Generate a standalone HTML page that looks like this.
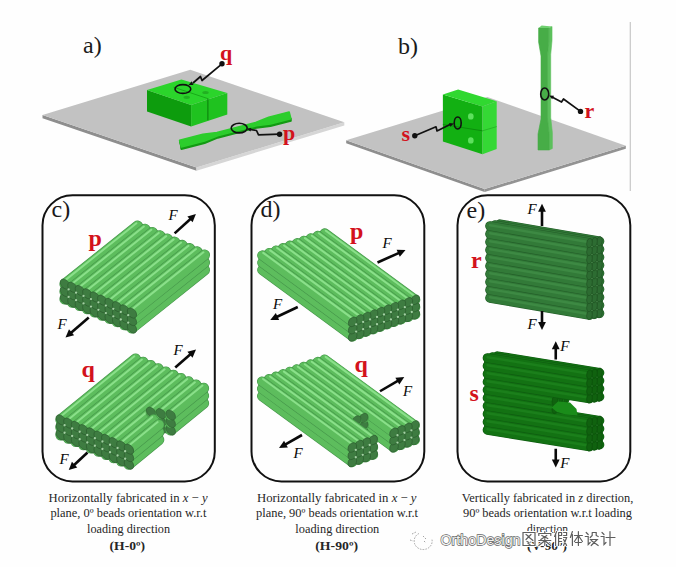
<!DOCTYPE html>
<html><head><meta charset="utf-8"><style>
html,body{margin:0;padding:0;background:#fff;}
svg{display:block;}
</style></head><body>
<svg width="676" height="567" viewBox="0 0 676 567">
<rect width="676" height="567" fill="#fefefe"/>
<polygon points="42.5,115 196.5,167.5 196.5,170.7 42.5,118.2" fill="#8e8e8e" stroke="none" stroke-width="0" />
<polygon points="196.5,167.5 344.3,122.3 344.3,125.5 196.5,170.7" fill="#d6d6d6" stroke="none" stroke-width="0" />
<polygon points="42.5,115 190.3,69.8 344.3,122.3 196.5,167.5" fill="#c2c2c2" stroke="none" stroke-width="0" />
<polygon points="346.2,140.2 484.6,189.1 484.6,192.1 346.2,143.2" fill="#8e8e8e" stroke="none" stroke-width="0" />
<polygon points="484.6,189.1 625.8,145.8 625.8,148.8 484.6,192.1" fill="#939393" stroke="none" stroke-width="0" />
<polygon points="346.2,140.2 487.4,96.9 625.8,145.8 484.6,189.1" fill="#c2c2c2" stroke="none" stroke-width="0" />
<line x1="630.3" y1="22" x2="630.3" y2="191" stroke="#c8c8c8" stroke-width="1.2" stroke-linecap="butt" />
<polygon points="147,89.9 191.1,105.1 191.1,126.6 147,111.4" fill="#0d9c0d" stroke="none" stroke-width="0" />
<polygon points="191.1,105.1 227.3,93.1 227.3,114.6 191.1,126.6" fill="#1fc21f" stroke="none" stroke-width="0" />
<polygon points="147,89.9 181.4,79.4 227.3,93.1 191.1,105.1" fill="#2bd42b" stroke="none" stroke-width="0" />
<line x1="207.9" y1="98.6" x2="207.9" y2="120.2" stroke="#0a7a0a" stroke-width="1" stroke-linecap="butt" />
<line x1="207.9" y1="98.6" x2="173.6" y2="87.2" stroke="#13a013" stroke-width="0.8" stroke-linecap="butt" />
<ellipse cx="186.7" cy="97.3" rx="3.2" ry="1.6" fill="#22b022"/>
<ellipse cx="205.5" cy="92.5" rx="3.2" ry="1.6" fill="#22b022"/>
<polygon points="181.37,146.99 204.61,141 217.7,135.67 256.43,125.7 270.47,124.04 290.87,118.79 290.87,120.89 270.47,126.14 256.43,127.8 217.7,137.77 204.61,143.1 181.37,149.09" fill="#139a13" stroke="#139a13" stroke-width="1.8" stroke-linejoin="round"/>
<polygon points="179.63,140.21 181.37,146.99 181.37,149.09 179.63,142.31" fill="#129612" stroke="#129612" stroke-width="1.0" stroke-linejoin="round"/>
<polygon points="179.63,140.21 202.87,134.23 216.9,132.57 255.64,122.6 268.72,117.27 289.13,112.01 290.87,118.79 270.47,124.04 256.43,125.7 217.7,135.67 204.61,141 181.37,146.99" fill="#2ccd2c" stroke="#2ccd2c" stroke-width="1.6" stroke-linejoin="round"/>
<polygon points="442.9,94.4 482.5,106.5 482.5,154.2 442.9,141.4" fill="#12b012" stroke="none" stroke-width="0" />
<polygon points="482.5,106.5 496.7,101.2 496.7,148.9 482.5,154.2" fill="#35d835" stroke="none" stroke-width="0" />
<polygon points="442.9,94.4 458.1,89.5 496.7,101.2 482.5,106.5" fill="#30d830" stroke="none" stroke-width="0" />
<line x1="442.9" y1="124.5" x2="482.5" y2="130.8" stroke="#0a8a0a" stroke-width="0.9" stroke-linecap="butt" />
<line x1="482.5" y1="130.8" x2="496.7" y2="126.6" stroke="#22b022" stroke-width="0.8" stroke-linecap="butt" />
<ellipse cx="470.8" cy="116.4" rx="2.8" ry="3.2" fill="#5ee05e"/>
<ellipse cx="470.8" cy="140.4" rx="2.8" ry="3.2" fill="#5ee05e"/>
<polygon points="548.83,28 548.83,42 547.51,56 547.51,119 549.16,134 549.16,150 552.36,148.5 552.36,132.5 550.71,117.5 550.71,54.5 552.03,40.5 552.03,26.5" fill="#5cc05c" stroke="#5cc05c" stroke-width="0.6" stroke-linejoin="round"/>
<polygon points="538.6,28 538.6,42 541,56 541,119 538,134 538,150 549.16,150 549.16,134 547.51,119 547.51,56 548.83,42 548.83,28" fill="#47ad47" stroke="#47ad47" stroke-width="0.6" stroke-linejoin="round"/>
<polygon points="538.6,28 541.6,25.5 552.03,26.5 548.83,28" fill="#70d070" stroke="none" stroke-width="0" />
<polyline points="222,63.8 202,80.5 200.5,76.5 193,83" fill="none" stroke="#111" stroke-width="1.7" stroke-linejoin="round"/>
<circle cx="222" cy="63.8" r="2.7" fill="#111"/>
<polygon points="188.5,85 191.77,81.32 193.42,84.96" fill="#111" stroke="none" stroke-width="0" />
<ellipse cx="182.9" cy="89" rx="7.9" ry="4.4" fill="none" stroke="#111" stroke-width="1.6"/>
<polyline points="279.6,134.2 258.5,134.8 256.5,130.5 250,129.5" fill="none" stroke="#111" stroke-width="1.7" stroke-linejoin="round"/>
<circle cx="279.6" cy="134.2" r="2.7" fill="#111"/>
<polygon points="246.5,128.8 251.29,127.64 250.57,131.57" fill="#111" stroke="none" stroke-width="0" />
<ellipse cx="239.2" cy="128.1" rx="8" ry="4.8" fill="none" stroke="#111" stroke-width="1.6"/>
<polyline points="414.8,135.8 436,126.8 437,131 450,124.5" fill="none" stroke="#111" stroke-width="1.7" stroke-linejoin="round"/>
<circle cx="414.8" cy="135.8" r="2.7" fill="#111"/>
<polygon points="454,123.5 450.26,126.71 449.12,122.88" fill="#111" stroke="none" stroke-width="0" />
<ellipse cx="457.7" cy="123" rx="3.5" ry="6" fill="none" stroke="#111" stroke-width="1.6"/>
<polyline points="580.5,111.4 563.5,99 561.5,102 552,97" fill="none" stroke="#111" stroke-width="1.7" stroke-linejoin="round"/>
<circle cx="580.5" cy="111.4" r="2.7" fill="#111"/>
<polygon points="549.1,95.5 554.02,95.77 552.19,99.33" fill="#111" stroke="none" stroke-width="0" />
<ellipse cx="544.7" cy="94" rx="4" ry="6" fill="none" stroke="#111" stroke-width="1.6"/>
<text x="220" y="60" font-family="Liberation Serif" font-size="22" fill="#d3121c" font-weight="bold" font-style="normal" text-anchor="start" >q</text>
<text x="283" y="140" font-family="Liberation Serif" font-size="22" fill="#d3121c" font-weight="bold" font-style="normal" text-anchor="start" >p</text>
<text x="401.5" y="141" font-family="Liberation Serif" font-size="22" fill="#d3121c" font-weight="bold" font-style="normal" text-anchor="start" >s</text>
<text x="584.5" y="117.5" font-family="Liberation Serif" font-size="22" fill="#d3121c" font-weight="bold" font-style="normal" text-anchor="start" >r</text>
<text x="83" y="53.3" font-family="Liberation Serif" font-size="24" fill="#1a1a1a" font-weight="normal" font-style="normal" text-anchor="start" >a)</text>
<text x="398" y="53.5" font-family="Liberation Serif" font-size="24" fill="#1a1a1a" font-weight="normal" font-style="normal" text-anchor="start" >b)</text>
<text x="51.5" y="216.5" font-family="Liberation Serif" font-size="24" fill="#1a1a1a" font-weight="normal" font-style="normal" text-anchor="start" >c)</text>
<text x="260.5" y="217" font-family="Liberation Serif" font-size="24" fill="#1a1a1a" font-weight="normal" font-style="normal" text-anchor="start" >d)</text>
<text x="466.5" y="218" font-family="Liberation Serif" font-size="24" fill="#1a1a1a" font-weight="normal" font-style="normal" text-anchor="start" >e)</text>
<rect x="42.5" y="195.3" width="172.3" height="286.1" rx="30" ry="30" fill="none" stroke="#111" stroke-width="2"/>
<rect x="251.5" y="195.3" width="172.8" height="286.1" rx="30" ry="30" fill="none" stroke="#111" stroke-width="2"/>
<rect x="457.5" y="195.3" width="172.8" height="286.1" rx="30" ry="30" fill="none" stroke="#111" stroke-width="2"/>
<text x="48.6" y="501.8" font-family="Liberation Serif" font-size="13" fill="#262626" font-weight="normal" font-style="normal" text-anchor="start" textLength="159" lengthAdjust="spacingAndGlyphs" >Horizontally fabricated in <tspan font-style="italic">x</tspan> − <tspan font-style="italic">y</tspan></text>
<text x="50.4" y="516.9" font-family="Liberation Serif" font-size="13" fill="#262626" font-weight="normal" font-style="normal" text-anchor="start" textLength="156" lengthAdjust="spacingAndGlyphs" >plane, 0º beads orientation w.r.t</text>
<text x="87" y="532.5" font-family="Liberation Serif" font-size="13" fill="#262626" font-weight="normal" font-style="normal" text-anchor="start" textLength="83" lengthAdjust="spacingAndGlyphs" >loading direction</text>
<text x="109.5" y="550.3" font-family="Liberation Serif" font-size="13" fill="#262626" font-weight="bold" font-style="normal" text-anchor="start" textLength="35.5" lengthAdjust="spacingAndGlyphs" >(H-0º)</text>
<text x="257" y="501.8" font-family="Liberation Serif" font-size="13" fill="#262626" font-weight="normal" font-style="normal" text-anchor="start" textLength="159.5" lengthAdjust="spacingAndGlyphs" >Horizontally fabricated in <tspan font-style="italic">x</tspan> − <tspan font-style="italic">y</tspan></text>
<text x="256" y="516.9" font-family="Liberation Serif" font-size="13" fill="#262626" font-weight="normal" font-style="normal" text-anchor="start" textLength="162" lengthAdjust="spacingAndGlyphs" >plane, 90º beads orientation w.r.t</text>
<text x="295.3" y="532.5" font-family="Liberation Serif" font-size="13" fill="#262626" font-weight="normal" font-style="normal" text-anchor="start" textLength="84" lengthAdjust="spacingAndGlyphs" >loading direction</text>
<text x="315.3" y="550.3" font-family="Liberation Serif" font-size="13" fill="#262626" font-weight="bold" font-style="normal" text-anchor="start" textLength="42.7" lengthAdjust="spacingAndGlyphs" >(H-90º)</text>
<text x="461.8" y="501.8" font-family="Liberation Serif" font-size="13" fill="#262626" font-weight="normal" font-style="normal" text-anchor="start" textLength="171.5" lengthAdjust="spacingAndGlyphs" >Vertically fabricated in <tspan font-style="italic">z</tspan> direction,</text>
<text x="463" y="516.9" font-family="Liberation Serif" font-size="13" fill="#262626" font-weight="normal" font-style="normal" text-anchor="start" textLength="169" lengthAdjust="spacingAndGlyphs" >90º beads orientation w.r.t loading</text>
<text x="527" y="532.5" font-family="Liberation Serif" font-size="13" fill="#262626" font-weight="normal" font-style="normal" text-anchor="start" textLength="41" lengthAdjust="spacingAndGlyphs" >direction</text>
<text x="527" y="550.3" font-family="Liberation Serif" font-size="13" fill="#262626" font-weight="bold" font-style="normal" text-anchor="start" textLength="40" lengthAdjust="spacingAndGlyphs" >(V-90º)</text>
<polygon points="64.9,284.1 137.5,226 167.3,238.88 204.55,254.98 204.55,269.98 131.95,328.08 124.5,324.86 109.6,318.42 79.8,305.54 64.9,299.1" fill="#45964a" stroke="#45964a" stroke-width="7.78" stroke-linejoin="round"/>
<line x1="64.9" y1="299.1" x2="137.5" y2="241" stroke="#45964a" stroke-width="10.97" stroke-linecap="round"/>
<line x1="64.9" y1="299.1" x2="137.5" y2="241" stroke="#5dbd5d" stroke-width="9.77" stroke-linecap="round"/>
<line x1="63.78" y1="296.37" x2="136.38" y2="238.27" stroke="#8ae08a" stroke-width="2" stroke-linecap="round"/>
<line x1="72.35" y1="302.32" x2="144.95" y2="244.22" stroke="#45964a" stroke-width="10.97" stroke-linecap="round"/>
<line x1="72.35" y1="302.32" x2="144.95" y2="244.22" stroke="#5dbd5d" stroke-width="9.77" stroke-linecap="round"/>
<line x1="71.23" y1="299.59" x2="143.83" y2="241.49" stroke="#8ae08a" stroke-width="2" stroke-linecap="round"/>
<line x1="79.8" y1="305.54" x2="152.4" y2="247.44" stroke="#45964a" stroke-width="10.97" stroke-linecap="round"/>
<line x1="79.8" y1="305.54" x2="152.4" y2="247.44" stroke="#5dbd5d" stroke-width="9.77" stroke-linecap="round"/>
<line x1="78.68" y1="302.81" x2="151.28" y2="244.71" stroke="#8ae08a" stroke-width="2" stroke-linecap="round"/>
<line x1="87.25" y1="308.76" x2="159.85" y2="250.66" stroke="#45964a" stroke-width="10.97" stroke-linecap="round"/>
<line x1="87.25" y1="308.76" x2="159.85" y2="250.66" stroke="#5dbd5d" stroke-width="9.77" stroke-linecap="round"/>
<line x1="86.13" y1="306.03" x2="158.73" y2="247.93" stroke="#8ae08a" stroke-width="2" stroke-linecap="round"/>
<line x1="94.7" y1="311.98" x2="167.3" y2="253.88" stroke="#45964a" stroke-width="10.97" stroke-linecap="round"/>
<line x1="94.7" y1="311.98" x2="167.3" y2="253.88" stroke="#5dbd5d" stroke-width="9.77" stroke-linecap="round"/>
<line x1="93.58" y1="309.25" x2="166.18" y2="251.15" stroke="#8ae08a" stroke-width="2" stroke-linecap="round"/>
<line x1="102.15" y1="315.2" x2="174.75" y2="257.1" stroke="#45964a" stroke-width="10.97" stroke-linecap="round"/>
<line x1="102.15" y1="315.2" x2="174.75" y2="257.1" stroke="#5dbd5d" stroke-width="9.77" stroke-linecap="round"/>
<line x1="101.03" y1="312.47" x2="173.63" y2="254.37" stroke="#8ae08a" stroke-width="2" stroke-linecap="round"/>
<line x1="109.6" y1="318.42" x2="182.2" y2="260.32" stroke="#45964a" stroke-width="10.97" stroke-linecap="round"/>
<line x1="109.6" y1="318.42" x2="182.2" y2="260.32" stroke="#5dbd5d" stroke-width="9.77" stroke-linecap="round"/>
<line x1="108.48" y1="315.69" x2="181.08" y2="257.59" stroke="#8ae08a" stroke-width="2" stroke-linecap="round"/>
<line x1="117.05" y1="321.64" x2="189.65" y2="263.54" stroke="#45964a" stroke-width="10.97" stroke-linecap="round"/>
<line x1="117.05" y1="321.64" x2="189.65" y2="263.54" stroke="#5dbd5d" stroke-width="9.77" stroke-linecap="round"/>
<line x1="115.93" y1="318.91" x2="188.53" y2="260.81" stroke="#8ae08a" stroke-width="2" stroke-linecap="round"/>
<line x1="124.5" y1="324.86" x2="197.1" y2="266.76" stroke="#45964a" stroke-width="10.97" stroke-linecap="round"/>
<line x1="124.5" y1="324.86" x2="197.1" y2="266.76" stroke="#5dbd5d" stroke-width="9.77" stroke-linecap="round"/>
<line x1="123.38" y1="322.13" x2="195.98" y2="264.03" stroke="#8ae08a" stroke-width="2" stroke-linecap="round"/>
<line x1="131.95" y1="328.08" x2="204.55" y2="269.98" stroke="#45964a" stroke-width="10.97" stroke-linecap="round"/>
<line x1="131.95" y1="328.08" x2="204.55" y2="269.98" stroke="#5dbd5d" stroke-width="9.77" stroke-linecap="round"/>
<line x1="130.83" y1="325.35" x2="203.43" y2="267.25" stroke="#8ae08a" stroke-width="2" stroke-linecap="round"/>
<line x1="64.9" y1="291.6" x2="137.5" y2="233.5" stroke="#45964a" stroke-width="10.97" stroke-linecap="round"/>
<line x1="64.9" y1="291.6" x2="137.5" y2="233.5" stroke="#5dbd5d" stroke-width="9.77" stroke-linecap="round"/>
<line x1="63.78" y1="288.87" x2="136.38" y2="230.77" stroke="#8ae08a" stroke-width="2" stroke-linecap="round"/>
<line x1="72.35" y1="294.82" x2="144.95" y2="236.72" stroke="#45964a" stroke-width="10.97" stroke-linecap="round"/>
<line x1="72.35" y1="294.82" x2="144.95" y2="236.72" stroke="#5dbd5d" stroke-width="9.77" stroke-linecap="round"/>
<line x1="71.23" y1="292.09" x2="143.83" y2="233.99" stroke="#8ae08a" stroke-width="2" stroke-linecap="round"/>
<line x1="79.8" y1="298.04" x2="152.4" y2="239.94" stroke="#45964a" stroke-width="10.97" stroke-linecap="round"/>
<line x1="79.8" y1="298.04" x2="152.4" y2="239.94" stroke="#5dbd5d" stroke-width="9.77" stroke-linecap="round"/>
<line x1="78.68" y1="295.31" x2="151.28" y2="237.21" stroke="#8ae08a" stroke-width="2" stroke-linecap="round"/>
<line x1="87.25" y1="301.26" x2="159.85" y2="243.16" stroke="#45964a" stroke-width="10.97" stroke-linecap="round"/>
<line x1="87.25" y1="301.26" x2="159.85" y2="243.16" stroke="#5dbd5d" stroke-width="9.77" stroke-linecap="round"/>
<line x1="86.13" y1="298.53" x2="158.73" y2="240.43" stroke="#8ae08a" stroke-width="2" stroke-linecap="round"/>
<line x1="94.7" y1="304.48" x2="167.3" y2="246.38" stroke="#45964a" stroke-width="10.97" stroke-linecap="round"/>
<line x1="94.7" y1="304.48" x2="167.3" y2="246.38" stroke="#5dbd5d" stroke-width="9.77" stroke-linecap="round"/>
<line x1="93.58" y1="301.75" x2="166.18" y2="243.65" stroke="#8ae08a" stroke-width="2" stroke-linecap="round"/>
<line x1="102.15" y1="307.7" x2="174.75" y2="249.6" stroke="#45964a" stroke-width="10.97" stroke-linecap="round"/>
<line x1="102.15" y1="307.7" x2="174.75" y2="249.6" stroke="#5dbd5d" stroke-width="9.77" stroke-linecap="round"/>
<line x1="101.03" y1="304.97" x2="173.63" y2="246.87" stroke="#8ae08a" stroke-width="2" stroke-linecap="round"/>
<line x1="109.6" y1="310.92" x2="182.2" y2="252.82" stroke="#45964a" stroke-width="10.97" stroke-linecap="round"/>
<line x1="109.6" y1="310.92" x2="182.2" y2="252.82" stroke="#5dbd5d" stroke-width="9.77" stroke-linecap="round"/>
<line x1="108.48" y1="308.19" x2="181.08" y2="250.09" stroke="#8ae08a" stroke-width="2" stroke-linecap="round"/>
<line x1="117.05" y1="314.14" x2="189.65" y2="256.04" stroke="#45964a" stroke-width="10.97" stroke-linecap="round"/>
<line x1="117.05" y1="314.14" x2="189.65" y2="256.04" stroke="#5dbd5d" stroke-width="9.77" stroke-linecap="round"/>
<line x1="115.93" y1="311.41" x2="188.53" y2="253.31" stroke="#8ae08a" stroke-width="2" stroke-linecap="round"/>
<line x1="124.5" y1="317.36" x2="197.1" y2="259.26" stroke="#45964a" stroke-width="10.97" stroke-linecap="round"/>
<line x1="124.5" y1="317.36" x2="197.1" y2="259.26" stroke="#5dbd5d" stroke-width="9.77" stroke-linecap="round"/>
<line x1="123.38" y1="314.63" x2="195.98" y2="256.53" stroke="#8ae08a" stroke-width="2" stroke-linecap="round"/>
<line x1="131.95" y1="320.58" x2="204.55" y2="262.48" stroke="#45964a" stroke-width="10.97" stroke-linecap="round"/>
<line x1="131.95" y1="320.58" x2="204.55" y2="262.48" stroke="#5dbd5d" stroke-width="9.77" stroke-linecap="round"/>
<line x1="130.83" y1="317.85" x2="203.43" y2="259.75" stroke="#8ae08a" stroke-width="2" stroke-linecap="round"/>
<line x1="64.9" y1="284.1" x2="137.5" y2="226" stroke="#45964a" stroke-width="10.97" stroke-linecap="round"/>
<line x1="64.9" y1="284.1" x2="137.5" y2="226" stroke="#5dbd5d" stroke-width="9.77" stroke-linecap="round"/>
<line x1="63.78" y1="281.37" x2="136.38" y2="223.27" stroke="#8ae08a" stroke-width="2" stroke-linecap="round"/>
<line x1="72.35" y1="287.32" x2="144.95" y2="229.22" stroke="#45964a" stroke-width="10.97" stroke-linecap="round"/>
<line x1="72.35" y1="287.32" x2="144.95" y2="229.22" stroke="#5dbd5d" stroke-width="9.77" stroke-linecap="round"/>
<line x1="71.23" y1="284.59" x2="143.83" y2="226.49" stroke="#8ae08a" stroke-width="2" stroke-linecap="round"/>
<line x1="79.8" y1="290.54" x2="152.4" y2="232.44" stroke="#45964a" stroke-width="10.97" stroke-linecap="round"/>
<line x1="79.8" y1="290.54" x2="152.4" y2="232.44" stroke="#5dbd5d" stroke-width="9.77" stroke-linecap="round"/>
<line x1="78.68" y1="287.81" x2="151.28" y2="229.71" stroke="#8ae08a" stroke-width="2" stroke-linecap="round"/>
<line x1="87.25" y1="293.76" x2="159.85" y2="235.66" stroke="#45964a" stroke-width="10.97" stroke-linecap="round"/>
<line x1="87.25" y1="293.76" x2="159.85" y2="235.66" stroke="#5dbd5d" stroke-width="9.77" stroke-linecap="round"/>
<line x1="86.13" y1="291.03" x2="158.73" y2="232.93" stroke="#8ae08a" stroke-width="2" stroke-linecap="round"/>
<line x1="94.7" y1="296.98" x2="167.3" y2="238.88" stroke="#45964a" stroke-width="10.97" stroke-linecap="round"/>
<line x1="94.7" y1="296.98" x2="167.3" y2="238.88" stroke="#5dbd5d" stroke-width="9.77" stroke-linecap="round"/>
<line x1="93.58" y1="294.25" x2="166.18" y2="236.15" stroke="#8ae08a" stroke-width="2" stroke-linecap="round"/>
<line x1="102.15" y1="300.2" x2="174.75" y2="242.1" stroke="#45964a" stroke-width="10.97" stroke-linecap="round"/>
<line x1="102.15" y1="300.2" x2="174.75" y2="242.1" stroke="#5dbd5d" stroke-width="9.77" stroke-linecap="round"/>
<line x1="101.03" y1="297.47" x2="173.63" y2="239.37" stroke="#8ae08a" stroke-width="2" stroke-linecap="round"/>
<line x1="109.6" y1="303.42" x2="182.2" y2="245.32" stroke="#45964a" stroke-width="10.97" stroke-linecap="round"/>
<line x1="109.6" y1="303.42" x2="182.2" y2="245.32" stroke="#5dbd5d" stroke-width="9.77" stroke-linecap="round"/>
<line x1="108.48" y1="300.69" x2="181.08" y2="242.59" stroke="#8ae08a" stroke-width="2" stroke-linecap="round"/>
<line x1="117.05" y1="306.64" x2="189.65" y2="248.54" stroke="#45964a" stroke-width="10.97" stroke-linecap="round"/>
<line x1="117.05" y1="306.64" x2="189.65" y2="248.54" stroke="#5dbd5d" stroke-width="9.77" stroke-linecap="round"/>
<line x1="115.93" y1="303.91" x2="188.53" y2="245.81" stroke="#8ae08a" stroke-width="2" stroke-linecap="round"/>
<line x1="124.5" y1="309.86" x2="197.1" y2="251.76" stroke="#45964a" stroke-width="10.97" stroke-linecap="round"/>
<line x1="124.5" y1="309.86" x2="197.1" y2="251.76" stroke="#5dbd5d" stroke-width="9.77" stroke-linecap="round"/>
<line x1="123.38" y1="307.13" x2="195.98" y2="249.03" stroke="#8ae08a" stroke-width="2" stroke-linecap="round"/>
<line x1="131.95" y1="313.08" x2="204.55" y2="254.98" stroke="#45964a" stroke-width="10.97" stroke-linecap="round"/>
<line x1="131.95" y1="313.08" x2="204.55" y2="254.98" stroke="#5dbd5d" stroke-width="9.77" stroke-linecap="round"/>
<line x1="130.83" y1="310.35" x2="203.43" y2="252.25" stroke="#8ae08a" stroke-width="2" stroke-linecap="round"/>
<circle r="1" transform="matrix(4.62,2,0,4.65,64.9,299.1)" fill="#3e7c41" stroke="#2b5c2e" stroke-width="0.7" vector-effect="non-scaling-stroke"/>
<circle r="1" transform="matrix(4.62,2,0,4.65,72.35,302.32)" fill="#3e7c41" stroke="#2b5c2e" stroke-width="0.7" vector-effect="non-scaling-stroke"/>
<circle r="1" transform="matrix(4.62,2,0,4.65,79.8,305.54)" fill="#3e7c41" stroke="#2b5c2e" stroke-width="0.7" vector-effect="non-scaling-stroke"/>
<circle r="1" transform="matrix(4.62,2,0,4.65,87.25,308.76)" fill="#3e7c41" stroke="#2b5c2e" stroke-width="0.7" vector-effect="non-scaling-stroke"/>
<circle r="1" transform="matrix(4.62,2,0,4.65,94.7,311.98)" fill="#3e7c41" stroke="#2b5c2e" stroke-width="0.7" vector-effect="non-scaling-stroke"/>
<circle r="1" transform="matrix(4.62,2,0,4.65,102.15,315.2)" fill="#3e7c41" stroke="#2b5c2e" stroke-width="0.7" vector-effect="non-scaling-stroke"/>
<circle r="1" transform="matrix(4.62,2,0,4.65,109.6,318.42)" fill="#3e7c41" stroke="#2b5c2e" stroke-width="0.7" vector-effect="non-scaling-stroke"/>
<circle r="1" transform="matrix(4.62,2,0,4.65,117.05,321.64)" fill="#3e7c41" stroke="#2b5c2e" stroke-width="0.7" vector-effect="non-scaling-stroke"/>
<circle r="1" transform="matrix(4.62,2,0,4.65,124.5,324.86)" fill="#3e7c41" stroke="#2b5c2e" stroke-width="0.7" vector-effect="non-scaling-stroke"/>
<circle r="1" transform="matrix(4.62,2,0,4.65,131.95,328.08)" fill="#3e7c41" stroke="#2b5c2e" stroke-width="0.7" vector-effect="non-scaling-stroke"/>
<circle r="1" transform="matrix(4.62,2,0,4.65,64.9,291.6)" fill="#3e7c41" stroke="#2b5c2e" stroke-width="0.7" vector-effect="non-scaling-stroke"/>
<circle r="1" transform="matrix(4.62,2,0,4.65,72.35,294.82)" fill="#3e7c41" stroke="#2b5c2e" stroke-width="0.7" vector-effect="non-scaling-stroke"/>
<circle r="1" transform="matrix(4.62,2,0,4.65,79.8,298.04)" fill="#3e7c41" stroke="#2b5c2e" stroke-width="0.7" vector-effect="non-scaling-stroke"/>
<circle r="1" transform="matrix(4.62,2,0,4.65,87.25,301.26)" fill="#3e7c41" stroke="#2b5c2e" stroke-width="0.7" vector-effect="non-scaling-stroke"/>
<circle r="1" transform="matrix(4.62,2,0,4.65,94.7,304.48)" fill="#3e7c41" stroke="#2b5c2e" stroke-width="0.7" vector-effect="non-scaling-stroke"/>
<circle r="1" transform="matrix(4.62,2,0,4.65,102.15,307.7)" fill="#3e7c41" stroke="#2b5c2e" stroke-width="0.7" vector-effect="non-scaling-stroke"/>
<circle r="1" transform="matrix(4.62,2,0,4.65,109.6,310.92)" fill="#3e7c41" stroke="#2b5c2e" stroke-width="0.7" vector-effect="non-scaling-stroke"/>
<circle r="1" transform="matrix(4.62,2,0,4.65,117.05,314.14)" fill="#3e7c41" stroke="#2b5c2e" stroke-width="0.7" vector-effect="non-scaling-stroke"/>
<circle r="1" transform="matrix(4.62,2,0,4.65,124.5,317.36)" fill="#3e7c41" stroke="#2b5c2e" stroke-width="0.7" vector-effect="non-scaling-stroke"/>
<circle r="1" transform="matrix(4.62,2,0,4.65,131.95,320.58)" fill="#3e7c41" stroke="#2b5c2e" stroke-width="0.7" vector-effect="non-scaling-stroke"/>
<circle r="1" transform="matrix(4.62,2,0,4.65,64.9,284.1)" fill="#3e7c41" stroke="#2b5c2e" stroke-width="0.7" vector-effect="non-scaling-stroke"/>
<circle r="1" transform="matrix(4.62,2,0,4.65,72.35,287.32)" fill="#3e7c41" stroke="#2b5c2e" stroke-width="0.7" vector-effect="non-scaling-stroke"/>
<circle r="1" transform="matrix(4.62,2,0,4.65,79.8,290.54)" fill="#3e7c41" stroke="#2b5c2e" stroke-width="0.7" vector-effect="non-scaling-stroke"/>
<circle r="1" transform="matrix(4.62,2,0,4.65,87.25,293.76)" fill="#3e7c41" stroke="#2b5c2e" stroke-width="0.7" vector-effect="non-scaling-stroke"/>
<circle r="1" transform="matrix(4.62,2,0,4.65,94.7,296.98)" fill="#3e7c41" stroke="#2b5c2e" stroke-width="0.7" vector-effect="non-scaling-stroke"/>
<circle r="1" transform="matrix(4.62,2,0,4.65,102.15,300.2)" fill="#3e7c41" stroke="#2b5c2e" stroke-width="0.7" vector-effect="non-scaling-stroke"/>
<circle r="1" transform="matrix(4.62,2,0,4.65,109.6,303.42)" fill="#3e7c41" stroke="#2b5c2e" stroke-width="0.7" vector-effect="non-scaling-stroke"/>
<circle r="1" transform="matrix(4.62,2,0,4.65,117.05,306.64)" fill="#3e7c41" stroke="#2b5c2e" stroke-width="0.7" vector-effect="non-scaling-stroke"/>
<circle r="1" transform="matrix(4.62,2,0,4.65,124.5,309.86)" fill="#3e7c41" stroke="#2b5c2e" stroke-width="0.7" vector-effect="non-scaling-stroke"/>
<circle r="1" transform="matrix(4.62,2,0,4.65,131.95,313.08)" fill="#3e7c41" stroke="#2b5c2e" stroke-width="0.7" vector-effect="non-scaling-stroke"/>
<circle cx="68.62" cy="296.96" r="1.15" fill="#a4d0a4"/>
<circle cx="76.08" cy="300.18" r="1.15" fill="#a4d0a4"/>
<circle cx="83.53" cy="303.4" r="1.15" fill="#a4d0a4"/>
<circle cx="90.97" cy="306.62" r="1.15" fill="#a4d0a4"/>
<circle cx="98.43" cy="309.84" r="1.15" fill="#a4d0a4"/>
<circle cx="105.88" cy="313.06" r="1.15" fill="#a4d0a4"/>
<circle cx="113.33" cy="316.28" r="1.15" fill="#a4d0a4"/>
<circle cx="120.78" cy="319.5" r="1.15" fill="#a4d0a4"/>
<circle cx="128.22" cy="322.72" r="1.15" fill="#a4d0a4"/>
<circle cx="68.62" cy="289.46" r="1.15" fill="#a4d0a4"/>
<circle cx="76.08" cy="292.68" r="1.15" fill="#a4d0a4"/>
<circle cx="83.53" cy="295.9" r="1.15" fill="#a4d0a4"/>
<circle cx="90.97" cy="299.12" r="1.15" fill="#a4d0a4"/>
<circle cx="98.43" cy="302.34" r="1.15" fill="#a4d0a4"/>
<circle cx="105.88" cy="305.56" r="1.15" fill="#a4d0a4"/>
<circle cx="113.33" cy="308.78" r="1.15" fill="#a4d0a4"/>
<circle cx="120.78" cy="312" r="1.15" fill="#a4d0a4"/>
<circle cx="128.22" cy="315.22" r="1.15" fill="#a4d0a4"/>
<polygon points="60.8,419.9 135.5,359 158.21,368.75 180.92,378.5 180.92,393.5 106.22,454.4 60.8,434.9" fill="#45964a" stroke="#45964a" stroke-width="7.84" stroke-linejoin="round"/>
<polygon points="113.79,442.65 148.15,414.64 153.48,419.71 158.81,424.79 158.81,439.79 128.93,464.15 121.36,460.9 113.79,457.65" fill="#45964a" stroke="#45964a" stroke-width="7.84" stroke-linejoin="round"/>
<polygon points="151.14,412.2 188.49,381.75 203.63,388.25 203.63,403.25 170.76,430.05 151.14,427.2" fill="#45964a" stroke="#45964a" stroke-width="7.84" stroke-linejoin="round"/>
<line x1="60.8" y1="434.9" x2="135.5" y2="374" stroke="#45964a" stroke-width="11.05" stroke-linecap="round"/>
<line x1="60.8" y1="434.9" x2="135.5" y2="374" stroke="#5dbd5d" stroke-width="9.85" stroke-linecap="round"/>
<line x1="59.66" y1="432.16" x2="134.36" y2="371.26" stroke="#8ae08a" stroke-width="2" stroke-linecap="round"/>
<line x1="68.37" y1="438.15" x2="143.07" y2="377.25" stroke="#45964a" stroke-width="11.05" stroke-linecap="round"/>
<line x1="68.37" y1="438.15" x2="143.07" y2="377.25" stroke="#5dbd5d" stroke-width="9.85" stroke-linecap="round"/>
<line x1="67.23" y1="435.41" x2="141.93" y2="374.51" stroke="#8ae08a" stroke-width="2" stroke-linecap="round"/>
<line x1="75.94" y1="441.4" x2="150.64" y2="380.5" stroke="#45964a" stroke-width="11.05" stroke-linecap="round"/>
<line x1="75.94" y1="441.4" x2="150.64" y2="380.5" stroke="#5dbd5d" stroke-width="9.85" stroke-linecap="round"/>
<line x1="74.8" y1="438.66" x2="149.5" y2="377.76" stroke="#8ae08a" stroke-width="2" stroke-linecap="round"/>
<line x1="83.51" y1="444.65" x2="158.21" y2="383.75" stroke="#45964a" stroke-width="11.05" stroke-linecap="round"/>
<line x1="83.51" y1="444.65" x2="158.21" y2="383.75" stroke="#5dbd5d" stroke-width="9.85" stroke-linecap="round"/>
<line x1="82.37" y1="441.91" x2="157.07" y2="381.01" stroke="#8ae08a" stroke-width="2" stroke-linecap="round"/>
<line x1="91.08" y1="447.9" x2="165.78" y2="387" stroke="#45964a" stroke-width="11.05" stroke-linecap="round"/>
<line x1="91.08" y1="447.9" x2="165.78" y2="387" stroke="#5dbd5d" stroke-width="9.85" stroke-linecap="round"/>
<line x1="89.94" y1="445.16" x2="164.64" y2="384.26" stroke="#8ae08a" stroke-width="2" stroke-linecap="round"/>
<line x1="98.65" y1="451.15" x2="173.35" y2="390.25" stroke="#45964a" stroke-width="11.05" stroke-linecap="round"/>
<line x1="98.65" y1="451.15" x2="173.35" y2="390.25" stroke="#5dbd5d" stroke-width="9.85" stroke-linecap="round"/>
<line x1="97.51" y1="448.41" x2="172.21" y2="387.51" stroke="#8ae08a" stroke-width="2" stroke-linecap="round"/>
<line x1="106.22" y1="454.4" x2="180.92" y2="393.5" stroke="#45964a" stroke-width="11.05" stroke-linecap="round"/>
<line x1="106.22" y1="454.4" x2="180.92" y2="393.5" stroke="#5dbd5d" stroke-width="9.85" stroke-linecap="round"/>
<line x1="105.08" y1="451.66" x2="179.78" y2="390.76" stroke="#8ae08a" stroke-width="2" stroke-linecap="round"/>
<line x1="113.79" y1="457.65" x2="148.15" y2="429.64" stroke="#45964a" stroke-width="11.05" stroke-linecap="round"/>
<line x1="113.79" y1="457.65" x2="148.15" y2="429.64" stroke="#5dbd5d" stroke-width="9.85" stroke-linecap="round"/>
<line x1="112.65" y1="454.91" x2="147.02" y2="426.9" stroke="#8ae08a" stroke-width="2" stroke-linecap="round"/>
<line x1="151.14" y1="427.2" x2="188.49" y2="396.75" stroke="#45964a" stroke-width="11.05" stroke-linecap="round"/>
<line x1="151.14" y1="427.2" x2="188.49" y2="396.75" stroke="#5dbd5d" stroke-width="9.85" stroke-linecap="round"/>
<line x1="150" y1="424.46" x2="187.35" y2="394.01" stroke="#8ae08a" stroke-width="2" stroke-linecap="round"/>
<circle r="1" transform="matrix(4.69,2.02,0,4.65,151.14,427.2)" fill="#3e7c41" stroke="#2b5c2e" stroke-width="0.6" vector-effect="non-scaling-stroke"/>
<line x1="121.36" y1="460.9" x2="153.48" y2="434.71" stroke="#45964a" stroke-width="11.05" stroke-linecap="round"/>
<line x1="121.36" y1="460.9" x2="153.48" y2="434.71" stroke="#5dbd5d" stroke-width="9.85" stroke-linecap="round"/>
<line x1="120.22" y1="458.16" x2="152.35" y2="431.98" stroke="#8ae08a" stroke-width="2" stroke-linecap="round"/>
<line x1="160.95" y1="428.62" x2="196.06" y2="400" stroke="#45964a" stroke-width="11.05" stroke-linecap="round"/>
<line x1="160.95" y1="428.62" x2="196.06" y2="400" stroke="#5dbd5d" stroke-width="9.85" stroke-linecap="round"/>
<line x1="159.82" y1="425.89" x2="194.92" y2="397.26" stroke="#8ae08a" stroke-width="2" stroke-linecap="round"/>
<circle r="1" transform="matrix(4.69,2.02,0,4.65,160.95,428.62)" fill="#3e7c41" stroke="#2b5c2e" stroke-width="0.6" vector-effect="non-scaling-stroke"/>
<line x1="128.93" y1="464.15" x2="158.81" y2="439.79" stroke="#45964a" stroke-width="11.05" stroke-linecap="round"/>
<line x1="128.93" y1="464.15" x2="158.81" y2="439.79" stroke="#5dbd5d" stroke-width="9.85" stroke-linecap="round"/>
<line x1="127.79" y1="461.41" x2="157.67" y2="437.05" stroke="#8ae08a" stroke-width="2" stroke-linecap="round"/>
<line x1="170.76" y1="430.05" x2="203.63" y2="403.25" stroke="#45964a" stroke-width="11.05" stroke-linecap="round"/>
<line x1="170.76" y1="430.05" x2="203.63" y2="403.25" stroke="#5dbd5d" stroke-width="9.85" stroke-linecap="round"/>
<line x1="169.63" y1="427.31" x2="202.49" y2="400.51" stroke="#8ae08a" stroke-width="2" stroke-linecap="round"/>
<circle r="1" transform="matrix(4.69,2.02,0,4.65,170.76,430.05)" fill="#3e7c41" stroke="#2b5c2e" stroke-width="0.6" vector-effect="non-scaling-stroke"/>
<line x1="60.8" y1="427.4" x2="135.5" y2="366.5" stroke="#45964a" stroke-width="11.05" stroke-linecap="round"/>
<line x1="60.8" y1="427.4" x2="135.5" y2="366.5" stroke="#5dbd5d" stroke-width="9.85" stroke-linecap="round"/>
<line x1="59.66" y1="424.66" x2="134.36" y2="363.76" stroke="#8ae08a" stroke-width="2" stroke-linecap="round"/>
<line x1="68.37" y1="430.65" x2="143.07" y2="369.75" stroke="#45964a" stroke-width="11.05" stroke-linecap="round"/>
<line x1="68.37" y1="430.65" x2="143.07" y2="369.75" stroke="#5dbd5d" stroke-width="9.85" stroke-linecap="round"/>
<line x1="67.23" y1="427.91" x2="141.93" y2="367.01" stroke="#8ae08a" stroke-width="2" stroke-linecap="round"/>
<line x1="75.94" y1="433.9" x2="150.64" y2="373" stroke="#45964a" stroke-width="11.05" stroke-linecap="round"/>
<line x1="75.94" y1="433.9" x2="150.64" y2="373" stroke="#5dbd5d" stroke-width="9.85" stroke-linecap="round"/>
<line x1="74.8" y1="431.16" x2="149.5" y2="370.26" stroke="#8ae08a" stroke-width="2" stroke-linecap="round"/>
<line x1="83.51" y1="437.15" x2="158.21" y2="376.25" stroke="#45964a" stroke-width="11.05" stroke-linecap="round"/>
<line x1="83.51" y1="437.15" x2="158.21" y2="376.25" stroke="#5dbd5d" stroke-width="9.85" stroke-linecap="round"/>
<line x1="82.37" y1="434.41" x2="157.07" y2="373.51" stroke="#8ae08a" stroke-width="2" stroke-linecap="round"/>
<line x1="91.08" y1="440.4" x2="165.78" y2="379.5" stroke="#45964a" stroke-width="11.05" stroke-linecap="round"/>
<line x1="91.08" y1="440.4" x2="165.78" y2="379.5" stroke="#5dbd5d" stroke-width="9.85" stroke-linecap="round"/>
<line x1="89.94" y1="437.66" x2="164.64" y2="376.76" stroke="#8ae08a" stroke-width="2" stroke-linecap="round"/>
<line x1="98.65" y1="443.65" x2="173.35" y2="382.75" stroke="#45964a" stroke-width="11.05" stroke-linecap="round"/>
<line x1="98.65" y1="443.65" x2="173.35" y2="382.75" stroke="#5dbd5d" stroke-width="9.85" stroke-linecap="round"/>
<line x1="97.51" y1="440.91" x2="172.21" y2="380.01" stroke="#8ae08a" stroke-width="2" stroke-linecap="round"/>
<line x1="106.22" y1="446.9" x2="180.92" y2="386" stroke="#45964a" stroke-width="11.05" stroke-linecap="round"/>
<line x1="106.22" y1="446.9" x2="180.92" y2="386" stroke="#5dbd5d" stroke-width="9.85" stroke-linecap="round"/>
<line x1="105.08" y1="444.16" x2="179.78" y2="383.26" stroke="#8ae08a" stroke-width="2" stroke-linecap="round"/>
<line x1="113.79" y1="450.15" x2="148.15" y2="422.14" stroke="#45964a" stroke-width="11.05" stroke-linecap="round"/>
<line x1="113.79" y1="450.15" x2="148.15" y2="422.14" stroke="#5dbd5d" stroke-width="9.85" stroke-linecap="round"/>
<line x1="112.65" y1="447.41" x2="147.02" y2="419.4" stroke="#8ae08a" stroke-width="2" stroke-linecap="round"/>
<line x1="151.14" y1="419.7" x2="188.49" y2="389.25" stroke="#45964a" stroke-width="11.05" stroke-linecap="round"/>
<line x1="151.14" y1="419.7" x2="188.49" y2="389.25" stroke="#5dbd5d" stroke-width="9.85" stroke-linecap="round"/>
<line x1="150" y1="416.96" x2="187.35" y2="386.51" stroke="#8ae08a" stroke-width="2" stroke-linecap="round"/>
<circle r="1" transform="matrix(4.69,2.02,0,4.65,151.14,419.7)" fill="#3e7c41" stroke="#2b5c2e" stroke-width="0.6" vector-effect="non-scaling-stroke"/>
<line x1="121.36" y1="453.4" x2="153.48" y2="427.21" stroke="#45964a" stroke-width="11.05" stroke-linecap="round"/>
<line x1="121.36" y1="453.4" x2="153.48" y2="427.21" stroke="#5dbd5d" stroke-width="9.85" stroke-linecap="round"/>
<line x1="120.22" y1="450.66" x2="152.35" y2="424.48" stroke="#8ae08a" stroke-width="2" stroke-linecap="round"/>
<line x1="160.95" y1="421.12" x2="196.06" y2="392.5" stroke="#45964a" stroke-width="11.05" stroke-linecap="round"/>
<line x1="160.95" y1="421.12" x2="196.06" y2="392.5" stroke="#5dbd5d" stroke-width="9.85" stroke-linecap="round"/>
<line x1="159.82" y1="418.39" x2="194.92" y2="389.76" stroke="#8ae08a" stroke-width="2" stroke-linecap="round"/>
<circle r="1" transform="matrix(4.69,2.02,0,4.65,160.95,421.12)" fill="#3e7c41" stroke="#2b5c2e" stroke-width="0.6" vector-effect="non-scaling-stroke"/>
<line x1="128.93" y1="456.65" x2="158.81" y2="432.29" stroke="#45964a" stroke-width="11.05" stroke-linecap="round"/>
<line x1="128.93" y1="456.65" x2="158.81" y2="432.29" stroke="#5dbd5d" stroke-width="9.85" stroke-linecap="round"/>
<line x1="127.79" y1="453.91" x2="157.67" y2="429.55" stroke="#8ae08a" stroke-width="2" stroke-linecap="round"/>
<line x1="170.76" y1="422.55" x2="203.63" y2="395.75" stroke="#45964a" stroke-width="11.05" stroke-linecap="round"/>
<line x1="170.76" y1="422.55" x2="203.63" y2="395.75" stroke="#5dbd5d" stroke-width="9.85" stroke-linecap="round"/>
<line x1="169.63" y1="419.81" x2="202.49" y2="393.01" stroke="#8ae08a" stroke-width="2" stroke-linecap="round"/>
<circle r="1" transform="matrix(4.69,2.02,0,4.65,170.76,422.55)" fill="#3e7c41" stroke="#2b5c2e" stroke-width="0.6" vector-effect="non-scaling-stroke"/>
<line x1="60.8" y1="419.9" x2="135.5" y2="359" stroke="#45964a" stroke-width="11.05" stroke-linecap="round"/>
<line x1="60.8" y1="419.9" x2="135.5" y2="359" stroke="#5dbd5d" stroke-width="9.85" stroke-linecap="round"/>
<line x1="59.66" y1="417.16" x2="134.36" y2="356.26" stroke="#8ae08a" stroke-width="2" stroke-linecap="round"/>
<line x1="68.37" y1="423.15" x2="143.07" y2="362.25" stroke="#45964a" stroke-width="11.05" stroke-linecap="round"/>
<line x1="68.37" y1="423.15" x2="143.07" y2="362.25" stroke="#5dbd5d" stroke-width="9.85" stroke-linecap="round"/>
<line x1="67.23" y1="420.41" x2="141.93" y2="359.51" stroke="#8ae08a" stroke-width="2" stroke-linecap="round"/>
<line x1="75.94" y1="426.4" x2="150.64" y2="365.5" stroke="#45964a" stroke-width="11.05" stroke-linecap="round"/>
<line x1="75.94" y1="426.4" x2="150.64" y2="365.5" stroke="#5dbd5d" stroke-width="9.85" stroke-linecap="round"/>
<line x1="74.8" y1="423.66" x2="149.5" y2="362.76" stroke="#8ae08a" stroke-width="2" stroke-linecap="round"/>
<line x1="83.51" y1="429.65" x2="158.21" y2="368.75" stroke="#45964a" stroke-width="11.05" stroke-linecap="round"/>
<line x1="83.51" y1="429.65" x2="158.21" y2="368.75" stroke="#5dbd5d" stroke-width="9.85" stroke-linecap="round"/>
<line x1="82.37" y1="426.91" x2="157.07" y2="366.01" stroke="#8ae08a" stroke-width="2" stroke-linecap="round"/>
<line x1="91.08" y1="432.9" x2="165.78" y2="372" stroke="#45964a" stroke-width="11.05" stroke-linecap="round"/>
<line x1="91.08" y1="432.9" x2="165.78" y2="372" stroke="#5dbd5d" stroke-width="9.85" stroke-linecap="round"/>
<line x1="89.94" y1="430.16" x2="164.64" y2="369.26" stroke="#8ae08a" stroke-width="2" stroke-linecap="round"/>
<line x1="98.65" y1="436.15" x2="173.35" y2="375.25" stroke="#45964a" stroke-width="11.05" stroke-linecap="round"/>
<line x1="98.65" y1="436.15" x2="173.35" y2="375.25" stroke="#5dbd5d" stroke-width="9.85" stroke-linecap="round"/>
<line x1="97.51" y1="433.41" x2="172.21" y2="372.51" stroke="#8ae08a" stroke-width="2" stroke-linecap="round"/>
<line x1="106.22" y1="439.4" x2="180.92" y2="378.5" stroke="#45964a" stroke-width="11.05" stroke-linecap="round"/>
<line x1="106.22" y1="439.4" x2="180.92" y2="378.5" stroke="#5dbd5d" stroke-width="9.85" stroke-linecap="round"/>
<line x1="105.08" y1="436.66" x2="179.78" y2="375.76" stroke="#8ae08a" stroke-width="2" stroke-linecap="round"/>
<line x1="113.79" y1="442.65" x2="148.15" y2="414.64" stroke="#45964a" stroke-width="11.05" stroke-linecap="round"/>
<line x1="113.79" y1="442.65" x2="148.15" y2="414.64" stroke="#5dbd5d" stroke-width="9.85" stroke-linecap="round"/>
<line x1="112.65" y1="439.91" x2="147.02" y2="411.9" stroke="#8ae08a" stroke-width="2" stroke-linecap="round"/>
<line x1="151.14" y1="412.2" x2="188.49" y2="381.75" stroke="#45964a" stroke-width="11.05" stroke-linecap="round"/>
<line x1="151.14" y1="412.2" x2="188.49" y2="381.75" stroke="#5dbd5d" stroke-width="9.85" stroke-linecap="round"/>
<line x1="150" y1="409.46" x2="187.35" y2="379.01" stroke="#8ae08a" stroke-width="2" stroke-linecap="round"/>
<circle r="1" transform="matrix(4.69,2.02,0,4.65,151.14,412.2)" fill="#3e7c41" stroke="#2b5c2e" stroke-width="0.6" vector-effect="non-scaling-stroke"/>
<line x1="121.36" y1="445.9" x2="153.48" y2="419.71" stroke="#45964a" stroke-width="11.05" stroke-linecap="round"/>
<line x1="121.36" y1="445.9" x2="153.48" y2="419.71" stroke="#5dbd5d" stroke-width="9.85" stroke-linecap="round"/>
<line x1="120.22" y1="443.16" x2="152.35" y2="416.98" stroke="#8ae08a" stroke-width="2" stroke-linecap="round"/>
<line x1="160.95" y1="413.62" x2="196.06" y2="385" stroke="#45964a" stroke-width="11.05" stroke-linecap="round"/>
<line x1="160.95" y1="413.62" x2="196.06" y2="385" stroke="#5dbd5d" stroke-width="9.85" stroke-linecap="round"/>
<line x1="159.82" y1="410.89" x2="194.92" y2="382.26" stroke="#8ae08a" stroke-width="2" stroke-linecap="round"/>
<circle r="1" transform="matrix(4.69,2.02,0,4.65,160.95,413.62)" fill="#3e7c41" stroke="#2b5c2e" stroke-width="0.6" vector-effect="non-scaling-stroke"/>
<line x1="128.93" y1="449.15" x2="158.81" y2="424.79" stroke="#45964a" stroke-width="11.05" stroke-linecap="round"/>
<line x1="128.93" y1="449.15" x2="158.81" y2="424.79" stroke="#5dbd5d" stroke-width="9.85" stroke-linecap="round"/>
<line x1="127.79" y1="446.41" x2="157.67" y2="422.05" stroke="#8ae08a" stroke-width="2" stroke-linecap="round"/>
<line x1="170.76" y1="415.05" x2="203.63" y2="388.25" stroke="#45964a" stroke-width="11.05" stroke-linecap="round"/>
<line x1="170.76" y1="415.05" x2="203.63" y2="388.25" stroke="#5dbd5d" stroke-width="9.85" stroke-linecap="round"/>
<line x1="169.63" y1="412.31" x2="202.49" y2="385.51" stroke="#8ae08a" stroke-width="2" stroke-linecap="round"/>
<circle r="1" transform="matrix(4.69,2.02,0,4.65,170.76,415.05)" fill="#3e7c41" stroke="#2b5c2e" stroke-width="0.6" vector-effect="non-scaling-stroke"/>
<circle r="1" transform="matrix(4.69,2.02,0,4.65,60.8,434.9)" fill="#3e7c41" stroke="#2b5c2e" stroke-width="0.7" vector-effect="non-scaling-stroke"/>
<circle r="1" transform="matrix(4.69,2.02,0,4.65,68.37,438.15)" fill="#3e7c41" stroke="#2b5c2e" stroke-width="0.7" vector-effect="non-scaling-stroke"/>
<circle r="1" transform="matrix(4.69,2.02,0,4.65,75.94,441.4)" fill="#3e7c41" stroke="#2b5c2e" stroke-width="0.7" vector-effect="non-scaling-stroke"/>
<circle r="1" transform="matrix(4.69,2.02,0,4.65,83.51,444.65)" fill="#3e7c41" stroke="#2b5c2e" stroke-width="0.7" vector-effect="non-scaling-stroke"/>
<circle r="1" transform="matrix(4.69,2.02,0,4.65,91.08,447.9)" fill="#3e7c41" stroke="#2b5c2e" stroke-width="0.7" vector-effect="non-scaling-stroke"/>
<circle r="1" transform="matrix(4.69,2.02,0,4.65,98.65,451.15)" fill="#3e7c41" stroke="#2b5c2e" stroke-width="0.7" vector-effect="non-scaling-stroke"/>
<circle r="1" transform="matrix(4.69,2.02,0,4.65,106.22,454.4)" fill="#3e7c41" stroke="#2b5c2e" stroke-width="0.7" vector-effect="non-scaling-stroke"/>
<circle r="1" transform="matrix(4.69,2.02,0,4.65,113.79,457.65)" fill="#3e7c41" stroke="#2b5c2e" stroke-width="0.7" vector-effect="non-scaling-stroke"/>
<circle r="1" transform="matrix(4.69,2.02,0,4.65,121.36,460.9)" fill="#3e7c41" stroke="#2b5c2e" stroke-width="0.7" vector-effect="non-scaling-stroke"/>
<circle r="1" transform="matrix(4.69,2.02,0,4.65,128.93,464.15)" fill="#3e7c41" stroke="#2b5c2e" stroke-width="0.7" vector-effect="non-scaling-stroke"/>
<circle r="1" transform="matrix(4.69,2.02,0,4.65,60.8,427.4)" fill="#3e7c41" stroke="#2b5c2e" stroke-width="0.7" vector-effect="non-scaling-stroke"/>
<circle r="1" transform="matrix(4.69,2.02,0,4.65,68.37,430.65)" fill="#3e7c41" stroke="#2b5c2e" stroke-width="0.7" vector-effect="non-scaling-stroke"/>
<circle r="1" transform="matrix(4.69,2.02,0,4.65,75.94,433.9)" fill="#3e7c41" stroke="#2b5c2e" stroke-width="0.7" vector-effect="non-scaling-stroke"/>
<circle r="1" transform="matrix(4.69,2.02,0,4.65,83.51,437.15)" fill="#3e7c41" stroke="#2b5c2e" stroke-width="0.7" vector-effect="non-scaling-stroke"/>
<circle r="1" transform="matrix(4.69,2.02,0,4.65,91.08,440.4)" fill="#3e7c41" stroke="#2b5c2e" stroke-width="0.7" vector-effect="non-scaling-stroke"/>
<circle r="1" transform="matrix(4.69,2.02,0,4.65,98.65,443.65)" fill="#3e7c41" stroke="#2b5c2e" stroke-width="0.7" vector-effect="non-scaling-stroke"/>
<circle r="1" transform="matrix(4.69,2.02,0,4.65,106.22,446.9)" fill="#3e7c41" stroke="#2b5c2e" stroke-width="0.7" vector-effect="non-scaling-stroke"/>
<circle r="1" transform="matrix(4.69,2.02,0,4.65,113.79,450.15)" fill="#3e7c41" stroke="#2b5c2e" stroke-width="0.7" vector-effect="non-scaling-stroke"/>
<circle r="1" transform="matrix(4.69,2.02,0,4.65,121.36,453.4)" fill="#3e7c41" stroke="#2b5c2e" stroke-width="0.7" vector-effect="non-scaling-stroke"/>
<circle r="1" transform="matrix(4.69,2.02,0,4.65,128.93,456.65)" fill="#3e7c41" stroke="#2b5c2e" stroke-width="0.7" vector-effect="non-scaling-stroke"/>
<circle r="1" transform="matrix(4.69,2.02,0,4.65,60.8,419.9)" fill="#3e7c41" stroke="#2b5c2e" stroke-width="0.7" vector-effect="non-scaling-stroke"/>
<circle r="1" transform="matrix(4.69,2.02,0,4.65,68.37,423.15)" fill="#3e7c41" stroke="#2b5c2e" stroke-width="0.7" vector-effect="non-scaling-stroke"/>
<circle r="1" transform="matrix(4.69,2.02,0,4.65,75.94,426.4)" fill="#3e7c41" stroke="#2b5c2e" stroke-width="0.7" vector-effect="non-scaling-stroke"/>
<circle r="1" transform="matrix(4.69,2.02,0,4.65,83.51,429.65)" fill="#3e7c41" stroke="#2b5c2e" stroke-width="0.7" vector-effect="non-scaling-stroke"/>
<circle r="1" transform="matrix(4.69,2.02,0,4.65,91.08,432.9)" fill="#3e7c41" stroke="#2b5c2e" stroke-width="0.7" vector-effect="non-scaling-stroke"/>
<circle r="1" transform="matrix(4.69,2.02,0,4.65,98.65,436.15)" fill="#3e7c41" stroke="#2b5c2e" stroke-width="0.7" vector-effect="non-scaling-stroke"/>
<circle r="1" transform="matrix(4.69,2.02,0,4.65,106.22,439.4)" fill="#3e7c41" stroke="#2b5c2e" stroke-width="0.7" vector-effect="non-scaling-stroke"/>
<circle r="1" transform="matrix(4.69,2.02,0,4.65,113.79,442.65)" fill="#3e7c41" stroke="#2b5c2e" stroke-width="0.7" vector-effect="non-scaling-stroke"/>
<circle r="1" transform="matrix(4.69,2.02,0,4.65,121.36,445.9)" fill="#3e7c41" stroke="#2b5c2e" stroke-width="0.7" vector-effect="non-scaling-stroke"/>
<circle r="1" transform="matrix(4.69,2.02,0,4.65,128.93,449.15)" fill="#3e7c41" stroke="#2b5c2e" stroke-width="0.7" vector-effect="non-scaling-stroke"/>
<circle cx="64.59" cy="432.77" r="1.15" fill="#a4d0a4"/>
<circle cx="72.16" cy="436.02" r="1.15" fill="#a4d0a4"/>
<circle cx="79.72" cy="439.27" r="1.15" fill="#a4d0a4"/>
<circle cx="87.29" cy="442.52" r="1.15" fill="#a4d0a4"/>
<circle cx="94.87" cy="445.77" r="1.15" fill="#a4d0a4"/>
<circle cx="102.44" cy="449.02" r="1.15" fill="#a4d0a4"/>
<circle cx="110" cy="452.27" r="1.15" fill="#a4d0a4"/>
<circle cx="117.57" cy="455.52" r="1.15" fill="#a4d0a4"/>
<circle cx="125.15" cy="458.77" r="1.15" fill="#a4d0a4"/>
<circle cx="64.59" cy="425.27" r="1.15" fill="#a4d0a4"/>
<circle cx="72.16" cy="428.52" r="1.15" fill="#a4d0a4"/>
<circle cx="79.72" cy="431.77" r="1.15" fill="#a4d0a4"/>
<circle cx="87.29" cy="435.02" r="1.15" fill="#a4d0a4"/>
<circle cx="94.87" cy="438.27" r="1.15" fill="#a4d0a4"/>
<circle cx="102.44" cy="441.52" r="1.15" fill="#a4d0a4"/>
<circle cx="110" cy="444.77" r="1.15" fill="#a4d0a4"/>
<circle cx="117.57" cy="448.02" r="1.15" fill="#a4d0a4"/>
<circle cx="125.15" cy="451.27" r="1.15" fill="#a4d0a4"/>
<polygon points="262.2,255.4 269.15,252.95 303.9,240.7 324.75,233.35 415.25,299.85 415.25,314.45 401.35,319.35 366.6,331.6 352.7,336.5 262.2,270" fill="#45964a" stroke="#45964a" stroke-width="7.11" stroke-linejoin="round"/>
<line x1="415.25" y1="314.45" x2="324.75" y2="247.95" stroke="#45964a" stroke-width="10.08" stroke-linecap="round"/>
<line x1="415.25" y1="314.45" x2="324.75" y2="247.95" stroke="#5dbd5d" stroke-width="8.88" stroke-linecap="round"/>
<line x1="416.29" y1="311.89" x2="325.79" y2="245.39" stroke="#8ae08a" stroke-width="2" stroke-linecap="round"/>
<line x1="408.3" y1="316.9" x2="317.8" y2="250.4" stroke="#45964a" stroke-width="10.08" stroke-linecap="round"/>
<line x1="408.3" y1="316.9" x2="317.8" y2="250.4" stroke="#5dbd5d" stroke-width="8.88" stroke-linecap="round"/>
<line x1="409.34" y1="314.34" x2="318.84" y2="247.84" stroke="#8ae08a" stroke-width="2" stroke-linecap="round"/>
<line x1="401.35" y1="319.35" x2="310.85" y2="252.85" stroke="#45964a" stroke-width="10.08" stroke-linecap="round"/>
<line x1="401.35" y1="319.35" x2="310.85" y2="252.85" stroke="#5dbd5d" stroke-width="8.88" stroke-linecap="round"/>
<line x1="402.39" y1="316.79" x2="311.89" y2="250.29" stroke="#8ae08a" stroke-width="2" stroke-linecap="round"/>
<line x1="394.4" y1="321.8" x2="303.9" y2="255.3" stroke="#45964a" stroke-width="10.08" stroke-linecap="round"/>
<line x1="394.4" y1="321.8" x2="303.9" y2="255.3" stroke="#5dbd5d" stroke-width="8.88" stroke-linecap="round"/>
<line x1="395.44" y1="319.24" x2="304.94" y2="252.74" stroke="#8ae08a" stroke-width="2" stroke-linecap="round"/>
<line x1="387.45" y1="324.25" x2="296.95" y2="257.75" stroke="#45964a" stroke-width="10.08" stroke-linecap="round"/>
<line x1="387.45" y1="324.25" x2="296.95" y2="257.75" stroke="#5dbd5d" stroke-width="8.88" stroke-linecap="round"/>
<line x1="388.49" y1="321.69" x2="297.99" y2="255.19" stroke="#8ae08a" stroke-width="2" stroke-linecap="round"/>
<line x1="380.5" y1="326.7" x2="290" y2="260.2" stroke="#45964a" stroke-width="10.08" stroke-linecap="round"/>
<line x1="380.5" y1="326.7" x2="290" y2="260.2" stroke="#5dbd5d" stroke-width="8.88" stroke-linecap="round"/>
<line x1="381.54" y1="324.14" x2="291.04" y2="257.64" stroke="#8ae08a" stroke-width="2" stroke-linecap="round"/>
<line x1="373.55" y1="329.15" x2="283.05" y2="262.65" stroke="#45964a" stroke-width="10.08" stroke-linecap="round"/>
<line x1="373.55" y1="329.15" x2="283.05" y2="262.65" stroke="#5dbd5d" stroke-width="8.88" stroke-linecap="round"/>
<line x1="374.59" y1="326.59" x2="284.09" y2="260.09" stroke="#8ae08a" stroke-width="2" stroke-linecap="round"/>
<line x1="366.6" y1="331.6" x2="276.1" y2="265.1" stroke="#45964a" stroke-width="10.08" stroke-linecap="round"/>
<line x1="366.6" y1="331.6" x2="276.1" y2="265.1" stroke="#5dbd5d" stroke-width="8.88" stroke-linecap="round"/>
<line x1="367.64" y1="329.04" x2="277.14" y2="262.54" stroke="#8ae08a" stroke-width="2" stroke-linecap="round"/>
<line x1="359.65" y1="334.05" x2="269.15" y2="267.55" stroke="#45964a" stroke-width="10.08" stroke-linecap="round"/>
<line x1="359.65" y1="334.05" x2="269.15" y2="267.55" stroke="#5dbd5d" stroke-width="8.88" stroke-linecap="round"/>
<line x1="360.69" y1="331.49" x2="270.19" y2="264.99" stroke="#8ae08a" stroke-width="2" stroke-linecap="round"/>
<line x1="352.7" y1="336.5" x2="262.2" y2="270" stroke="#45964a" stroke-width="10.08" stroke-linecap="round"/>
<line x1="352.7" y1="336.5" x2="262.2" y2="270" stroke="#5dbd5d" stroke-width="8.88" stroke-linecap="round"/>
<line x1="353.74" y1="333.94" x2="263.24" y2="267.44" stroke="#8ae08a" stroke-width="2" stroke-linecap="round"/>
<line x1="415.25" y1="307.15" x2="324.75" y2="240.65" stroke="#45964a" stroke-width="10.08" stroke-linecap="round"/>
<line x1="415.25" y1="307.15" x2="324.75" y2="240.65" stroke="#5dbd5d" stroke-width="8.88" stroke-linecap="round"/>
<line x1="416.29" y1="304.59" x2="325.79" y2="238.09" stroke="#8ae08a" stroke-width="2" stroke-linecap="round"/>
<line x1="408.3" y1="309.6" x2="317.8" y2="243.1" stroke="#45964a" stroke-width="10.08" stroke-linecap="round"/>
<line x1="408.3" y1="309.6" x2="317.8" y2="243.1" stroke="#5dbd5d" stroke-width="8.88" stroke-linecap="round"/>
<line x1="409.34" y1="307.04" x2="318.84" y2="240.54" stroke="#8ae08a" stroke-width="2" stroke-linecap="round"/>
<line x1="401.35" y1="312.05" x2="310.85" y2="245.55" stroke="#45964a" stroke-width="10.08" stroke-linecap="round"/>
<line x1="401.35" y1="312.05" x2="310.85" y2="245.55" stroke="#5dbd5d" stroke-width="8.88" stroke-linecap="round"/>
<line x1="402.39" y1="309.49" x2="311.89" y2="242.99" stroke="#8ae08a" stroke-width="2" stroke-linecap="round"/>
<line x1="394.4" y1="314.5" x2="303.9" y2="248" stroke="#45964a" stroke-width="10.08" stroke-linecap="round"/>
<line x1="394.4" y1="314.5" x2="303.9" y2="248" stroke="#5dbd5d" stroke-width="8.88" stroke-linecap="round"/>
<line x1="395.44" y1="311.94" x2="304.94" y2="245.44" stroke="#8ae08a" stroke-width="2" stroke-linecap="round"/>
<line x1="387.45" y1="316.95" x2="296.95" y2="250.45" stroke="#45964a" stroke-width="10.08" stroke-linecap="round"/>
<line x1="387.45" y1="316.95" x2="296.95" y2="250.45" stroke="#5dbd5d" stroke-width="8.88" stroke-linecap="round"/>
<line x1="388.49" y1="314.39" x2="297.99" y2="247.89" stroke="#8ae08a" stroke-width="2" stroke-linecap="round"/>
<line x1="380.5" y1="319.4" x2="290" y2="252.9" stroke="#45964a" stroke-width="10.08" stroke-linecap="round"/>
<line x1="380.5" y1="319.4" x2="290" y2="252.9" stroke="#5dbd5d" stroke-width="8.88" stroke-linecap="round"/>
<line x1="381.54" y1="316.84" x2="291.04" y2="250.34" stroke="#8ae08a" stroke-width="2" stroke-linecap="round"/>
<line x1="373.55" y1="321.85" x2="283.05" y2="255.35" stroke="#45964a" stroke-width="10.08" stroke-linecap="round"/>
<line x1="373.55" y1="321.85" x2="283.05" y2="255.35" stroke="#5dbd5d" stroke-width="8.88" stroke-linecap="round"/>
<line x1="374.59" y1="319.29" x2="284.09" y2="252.79" stroke="#8ae08a" stroke-width="2" stroke-linecap="round"/>
<line x1="366.6" y1="324.3" x2="276.1" y2="257.8" stroke="#45964a" stroke-width="10.08" stroke-linecap="round"/>
<line x1="366.6" y1="324.3" x2="276.1" y2="257.8" stroke="#5dbd5d" stroke-width="8.88" stroke-linecap="round"/>
<line x1="367.64" y1="321.74" x2="277.14" y2="255.24" stroke="#8ae08a" stroke-width="2" stroke-linecap="round"/>
<line x1="359.65" y1="326.75" x2="269.15" y2="260.25" stroke="#45964a" stroke-width="10.08" stroke-linecap="round"/>
<line x1="359.65" y1="326.75" x2="269.15" y2="260.25" stroke="#5dbd5d" stroke-width="8.88" stroke-linecap="round"/>
<line x1="360.69" y1="324.19" x2="270.19" y2="257.69" stroke="#8ae08a" stroke-width="2" stroke-linecap="round"/>
<line x1="352.7" y1="329.2" x2="262.2" y2="262.7" stroke="#45964a" stroke-width="10.08" stroke-linecap="round"/>
<line x1="352.7" y1="329.2" x2="262.2" y2="262.7" stroke="#5dbd5d" stroke-width="8.88" stroke-linecap="round"/>
<line x1="353.74" y1="326.64" x2="263.24" y2="260.14" stroke="#8ae08a" stroke-width="2" stroke-linecap="round"/>
<line x1="415.25" y1="299.85" x2="324.75" y2="233.35" stroke="#45964a" stroke-width="10.08" stroke-linecap="round"/>
<line x1="415.25" y1="299.85" x2="324.75" y2="233.35" stroke="#5dbd5d" stroke-width="8.88" stroke-linecap="round"/>
<line x1="416.29" y1="297.29" x2="325.79" y2="230.79" stroke="#8ae08a" stroke-width="2" stroke-linecap="round"/>
<line x1="408.3" y1="302.3" x2="317.8" y2="235.8" stroke="#45964a" stroke-width="10.08" stroke-linecap="round"/>
<line x1="408.3" y1="302.3" x2="317.8" y2="235.8" stroke="#5dbd5d" stroke-width="8.88" stroke-linecap="round"/>
<line x1="409.34" y1="299.74" x2="318.84" y2="233.24" stroke="#8ae08a" stroke-width="2" stroke-linecap="round"/>
<line x1="401.35" y1="304.75" x2="310.85" y2="238.25" stroke="#45964a" stroke-width="10.08" stroke-linecap="round"/>
<line x1="401.35" y1="304.75" x2="310.85" y2="238.25" stroke="#5dbd5d" stroke-width="8.88" stroke-linecap="round"/>
<line x1="402.39" y1="302.19" x2="311.89" y2="235.69" stroke="#8ae08a" stroke-width="2" stroke-linecap="round"/>
<line x1="394.4" y1="307.2" x2="303.9" y2="240.7" stroke="#45964a" stroke-width="10.08" stroke-linecap="round"/>
<line x1="394.4" y1="307.2" x2="303.9" y2="240.7" stroke="#5dbd5d" stroke-width="8.88" stroke-linecap="round"/>
<line x1="395.44" y1="304.64" x2="304.94" y2="238.14" stroke="#8ae08a" stroke-width="2" stroke-linecap="round"/>
<line x1="387.45" y1="309.65" x2="296.95" y2="243.15" stroke="#45964a" stroke-width="10.08" stroke-linecap="round"/>
<line x1="387.45" y1="309.65" x2="296.95" y2="243.15" stroke="#5dbd5d" stroke-width="8.88" stroke-linecap="round"/>
<line x1="388.49" y1="307.09" x2="297.99" y2="240.59" stroke="#8ae08a" stroke-width="2" stroke-linecap="round"/>
<line x1="380.5" y1="312.1" x2="290" y2="245.6" stroke="#45964a" stroke-width="10.08" stroke-linecap="round"/>
<line x1="380.5" y1="312.1" x2="290" y2="245.6" stroke="#5dbd5d" stroke-width="8.88" stroke-linecap="round"/>
<line x1="381.54" y1="309.54" x2="291.04" y2="243.04" stroke="#8ae08a" stroke-width="2" stroke-linecap="round"/>
<line x1="373.55" y1="314.55" x2="283.05" y2="248.05" stroke="#45964a" stroke-width="10.08" stroke-linecap="round"/>
<line x1="373.55" y1="314.55" x2="283.05" y2="248.05" stroke="#5dbd5d" stroke-width="8.88" stroke-linecap="round"/>
<line x1="374.59" y1="311.99" x2="284.09" y2="245.49" stroke="#8ae08a" stroke-width="2" stroke-linecap="round"/>
<line x1="366.6" y1="317" x2="276.1" y2="250.5" stroke="#45964a" stroke-width="10.08" stroke-linecap="round"/>
<line x1="366.6" y1="317" x2="276.1" y2="250.5" stroke="#5dbd5d" stroke-width="8.88" stroke-linecap="round"/>
<line x1="367.64" y1="314.44" x2="277.14" y2="247.94" stroke="#8ae08a" stroke-width="2" stroke-linecap="round"/>
<line x1="359.65" y1="319.45" x2="269.15" y2="252.95" stroke="#45964a" stroke-width="10.08" stroke-linecap="round"/>
<line x1="359.65" y1="319.45" x2="269.15" y2="252.95" stroke="#5dbd5d" stroke-width="8.88" stroke-linecap="round"/>
<line x1="360.69" y1="316.89" x2="270.19" y2="250.39" stroke="#8ae08a" stroke-width="2" stroke-linecap="round"/>
<line x1="352.7" y1="321.9" x2="262.2" y2="255.4" stroke="#45964a" stroke-width="10.08" stroke-linecap="round"/>
<line x1="352.7" y1="321.9" x2="262.2" y2="255.4" stroke="#5dbd5d" stroke-width="8.88" stroke-linecap="round"/>
<line x1="353.74" y1="319.34" x2="263.24" y2="252.84" stroke="#8ae08a" stroke-width="2" stroke-linecap="round"/>
<circle r="1" transform="matrix(4.31,-1.52,0,4.53,415.25,314.45)" fill="#3e7c41" stroke="#2b5c2e" stroke-width="0.7" vector-effect="non-scaling-stroke"/>
<circle r="1" transform="matrix(4.31,-1.52,0,4.53,408.3,316.9)" fill="#3e7c41" stroke="#2b5c2e" stroke-width="0.7" vector-effect="non-scaling-stroke"/>
<circle r="1" transform="matrix(4.31,-1.52,0,4.53,401.35,319.35)" fill="#3e7c41" stroke="#2b5c2e" stroke-width="0.7" vector-effect="non-scaling-stroke"/>
<circle r="1" transform="matrix(4.31,-1.52,0,4.53,394.4,321.8)" fill="#3e7c41" stroke="#2b5c2e" stroke-width="0.7" vector-effect="non-scaling-stroke"/>
<circle r="1" transform="matrix(4.31,-1.52,0,4.53,387.45,324.25)" fill="#3e7c41" stroke="#2b5c2e" stroke-width="0.7" vector-effect="non-scaling-stroke"/>
<circle r="1" transform="matrix(4.31,-1.52,0,4.53,380.5,326.7)" fill="#3e7c41" stroke="#2b5c2e" stroke-width="0.7" vector-effect="non-scaling-stroke"/>
<circle r="1" transform="matrix(4.31,-1.52,0,4.53,373.55,329.15)" fill="#3e7c41" stroke="#2b5c2e" stroke-width="0.7" vector-effect="non-scaling-stroke"/>
<circle r="1" transform="matrix(4.31,-1.52,0,4.53,366.6,331.6)" fill="#3e7c41" stroke="#2b5c2e" stroke-width="0.7" vector-effect="non-scaling-stroke"/>
<circle r="1" transform="matrix(4.31,-1.52,0,4.53,359.65,334.05)" fill="#3e7c41" stroke="#2b5c2e" stroke-width="0.7" vector-effect="non-scaling-stroke"/>
<circle r="1" transform="matrix(4.31,-1.52,0,4.53,352.7,336.5)" fill="#3e7c41" stroke="#2b5c2e" stroke-width="0.7" vector-effect="non-scaling-stroke"/>
<circle r="1" transform="matrix(4.31,-1.52,0,4.53,415.25,307.15)" fill="#3e7c41" stroke="#2b5c2e" stroke-width="0.7" vector-effect="non-scaling-stroke"/>
<circle r="1" transform="matrix(4.31,-1.52,0,4.53,408.3,309.6)" fill="#3e7c41" stroke="#2b5c2e" stroke-width="0.7" vector-effect="non-scaling-stroke"/>
<circle r="1" transform="matrix(4.31,-1.52,0,4.53,401.35,312.05)" fill="#3e7c41" stroke="#2b5c2e" stroke-width="0.7" vector-effect="non-scaling-stroke"/>
<circle r="1" transform="matrix(4.31,-1.52,0,4.53,394.4,314.5)" fill="#3e7c41" stroke="#2b5c2e" stroke-width="0.7" vector-effect="non-scaling-stroke"/>
<circle r="1" transform="matrix(4.31,-1.52,0,4.53,387.45,316.95)" fill="#3e7c41" stroke="#2b5c2e" stroke-width="0.7" vector-effect="non-scaling-stroke"/>
<circle r="1" transform="matrix(4.31,-1.52,0,4.53,380.5,319.4)" fill="#3e7c41" stroke="#2b5c2e" stroke-width="0.7" vector-effect="non-scaling-stroke"/>
<circle r="1" transform="matrix(4.31,-1.52,0,4.53,373.55,321.85)" fill="#3e7c41" stroke="#2b5c2e" stroke-width="0.7" vector-effect="non-scaling-stroke"/>
<circle r="1" transform="matrix(4.31,-1.52,0,4.53,366.6,324.3)" fill="#3e7c41" stroke="#2b5c2e" stroke-width="0.7" vector-effect="non-scaling-stroke"/>
<circle r="1" transform="matrix(4.31,-1.52,0,4.53,359.65,326.75)" fill="#3e7c41" stroke="#2b5c2e" stroke-width="0.7" vector-effect="non-scaling-stroke"/>
<circle r="1" transform="matrix(4.31,-1.52,0,4.53,352.7,329.2)" fill="#3e7c41" stroke="#2b5c2e" stroke-width="0.7" vector-effect="non-scaling-stroke"/>
<circle r="1" transform="matrix(4.31,-1.52,0,4.53,415.25,299.85)" fill="#3e7c41" stroke="#2b5c2e" stroke-width="0.7" vector-effect="non-scaling-stroke"/>
<circle r="1" transform="matrix(4.31,-1.52,0,4.53,408.3,302.3)" fill="#3e7c41" stroke="#2b5c2e" stroke-width="0.7" vector-effect="non-scaling-stroke"/>
<circle r="1" transform="matrix(4.31,-1.52,0,4.53,401.35,304.75)" fill="#3e7c41" stroke="#2b5c2e" stroke-width="0.7" vector-effect="non-scaling-stroke"/>
<circle r="1" transform="matrix(4.31,-1.52,0,4.53,394.4,307.2)" fill="#3e7c41" stroke="#2b5c2e" stroke-width="0.7" vector-effect="non-scaling-stroke"/>
<circle r="1" transform="matrix(4.31,-1.52,0,4.53,387.45,309.65)" fill="#3e7c41" stroke="#2b5c2e" stroke-width="0.7" vector-effect="non-scaling-stroke"/>
<circle r="1" transform="matrix(4.31,-1.52,0,4.53,380.5,312.1)" fill="#3e7c41" stroke="#2b5c2e" stroke-width="0.7" vector-effect="non-scaling-stroke"/>
<circle r="1" transform="matrix(4.31,-1.52,0,4.53,373.55,314.55)" fill="#3e7c41" stroke="#2b5c2e" stroke-width="0.7" vector-effect="non-scaling-stroke"/>
<circle r="1" transform="matrix(4.31,-1.52,0,4.53,366.6,317)" fill="#3e7c41" stroke="#2b5c2e" stroke-width="0.7" vector-effect="non-scaling-stroke"/>
<circle r="1" transform="matrix(4.31,-1.52,0,4.53,359.65,319.45)" fill="#3e7c41" stroke="#2b5c2e" stroke-width="0.7" vector-effect="non-scaling-stroke"/>
<circle r="1" transform="matrix(4.31,-1.52,0,4.53,352.7,321.9)" fill="#3e7c41" stroke="#2b5c2e" stroke-width="0.7" vector-effect="non-scaling-stroke"/>
<circle cx="411.77" cy="312.02" r="1.15" fill="#a4d0a4"/>
<circle cx="404.82" cy="314.48" r="1.15" fill="#a4d0a4"/>
<circle cx="397.88" cy="316.93" r="1.15" fill="#a4d0a4"/>
<circle cx="390.92" cy="319.38" r="1.15" fill="#a4d0a4"/>
<circle cx="383.98" cy="321.82" r="1.15" fill="#a4d0a4"/>
<circle cx="377.02" cy="324.27" r="1.15" fill="#a4d0a4"/>
<circle cx="370.07" cy="326.73" r="1.15" fill="#a4d0a4"/>
<circle cx="363.12" cy="329.18" r="1.15" fill="#a4d0a4"/>
<circle cx="356.17" cy="331.62" r="1.15" fill="#a4d0a4"/>
<circle cx="411.77" cy="304.72" r="1.15" fill="#a4d0a4"/>
<circle cx="404.82" cy="307.17" r="1.15" fill="#a4d0a4"/>
<circle cx="397.88" cy="309.62" r="1.15" fill="#a4d0a4"/>
<circle cx="390.92" cy="312.07" r="1.15" fill="#a4d0a4"/>
<circle cx="383.98" cy="314.52" r="1.15" fill="#a4d0a4"/>
<circle cx="377.02" cy="316.97" r="1.15" fill="#a4d0a4"/>
<circle cx="370.07" cy="319.42" r="1.15" fill="#a4d0a4"/>
<circle cx="363.12" cy="321.88" r="1.15" fill="#a4d0a4"/>
<circle cx="356.17" cy="324.32" r="1.15" fill="#a4d0a4"/>
<polygon points="262,381.5 282.85,374.15 373.15,440.15 373.15,454.75 352.3,462.1 262,396.1" fill="#45964a" stroke="#45964a" stroke-width="7.11" stroke-linejoin="round"/>
<polygon points="303.7,366.8 317.6,361.9 324.55,359.45 414.85,425.45 414.85,440.05 394,447.4 303.7,381.4" fill="#45964a" stroke="#45964a" stroke-width="7.11" stroke-linejoin="round"/>
<polygon points="289.8,371.7 296.75,369.25 363.57,418.09 363.57,432.69 356.62,435.14 289.8,386.3" fill="#45964a" stroke="#45964a" stroke-width="7.11" stroke-linejoin="round"/>
<line x1="414.85" y1="440.05" x2="324.55" y2="374.05" stroke="#45964a" stroke-width="10.08" stroke-linecap="round"/>
<line x1="414.85" y1="440.05" x2="324.55" y2="374.05" stroke="#5dbd5d" stroke-width="8.88" stroke-linecap="round"/>
<line x1="415.89" y1="437.49" x2="325.59" y2="371.49" stroke="#8ae08a" stroke-width="2" stroke-linecap="round"/>
<line x1="407.9" y1="442.5" x2="317.6" y2="376.5" stroke="#45964a" stroke-width="10.08" stroke-linecap="round"/>
<line x1="407.9" y1="442.5" x2="317.6" y2="376.5" stroke="#5dbd5d" stroke-width="8.88" stroke-linecap="round"/>
<line x1="408.94" y1="439.94" x2="318.64" y2="373.94" stroke="#8ae08a" stroke-width="2" stroke-linecap="round"/>
<line x1="400.95" y1="444.95" x2="310.65" y2="378.95" stroke="#45964a" stroke-width="10.08" stroke-linecap="round"/>
<line x1="400.95" y1="444.95" x2="310.65" y2="378.95" stroke="#5dbd5d" stroke-width="8.88" stroke-linecap="round"/>
<line x1="401.99" y1="442.39" x2="311.69" y2="376.39" stroke="#8ae08a" stroke-width="2" stroke-linecap="round"/>
<line x1="394" y1="447.4" x2="303.7" y2="381.4" stroke="#45964a" stroke-width="10.08" stroke-linecap="round"/>
<line x1="394" y1="447.4" x2="303.7" y2="381.4" stroke="#5dbd5d" stroke-width="8.88" stroke-linecap="round"/>
<line x1="395.04" y1="444.84" x2="304.74" y2="378.84" stroke="#8ae08a" stroke-width="2" stroke-linecap="round"/>
<line x1="363.57" y1="432.69" x2="296.75" y2="383.85" stroke="#45964a" stroke-width="10.08" stroke-linecap="round"/>
<line x1="363.57" y1="432.69" x2="296.75" y2="383.85" stroke="#5dbd5d" stroke-width="8.88" stroke-linecap="round"/>
<line x1="364.61" y1="430.13" x2="297.79" y2="381.29" stroke="#8ae08a" stroke-width="2" stroke-linecap="round"/>
<circle r="1" transform="matrix(4.31,-1.52,0,4.53,363.57,432.69)" fill="#3e7c41" stroke="#2b5c2e" stroke-width="0.6" vector-effect="non-scaling-stroke"/>
<line x1="356.62" y1="435.14" x2="289.8" y2="386.3" stroke="#45964a" stroke-width="10.08" stroke-linecap="round"/>
<line x1="356.62" y1="435.14" x2="289.8" y2="386.3" stroke="#5dbd5d" stroke-width="8.88" stroke-linecap="round"/>
<line x1="357.66" y1="432.58" x2="290.84" y2="383.74" stroke="#8ae08a" stroke-width="2" stroke-linecap="round"/>
<circle r="1" transform="matrix(4.31,-1.52,0,4.53,356.62,435.14)" fill="#3e7c41" stroke="#2b5c2e" stroke-width="0.6" vector-effect="non-scaling-stroke"/>
<line x1="373.15" y1="454.75" x2="282.85" y2="388.75" stroke="#45964a" stroke-width="10.08" stroke-linecap="round"/>
<line x1="373.15" y1="454.75" x2="282.85" y2="388.75" stroke="#5dbd5d" stroke-width="8.88" stroke-linecap="round"/>
<line x1="374.19" y1="452.19" x2="283.89" y2="386.19" stroke="#8ae08a" stroke-width="2" stroke-linecap="round"/>
<line x1="366.2" y1="457.2" x2="275.9" y2="391.2" stroke="#45964a" stroke-width="10.08" stroke-linecap="round"/>
<line x1="366.2" y1="457.2" x2="275.9" y2="391.2" stroke="#5dbd5d" stroke-width="8.88" stroke-linecap="round"/>
<line x1="367.24" y1="454.64" x2="276.94" y2="388.64" stroke="#8ae08a" stroke-width="2" stroke-linecap="round"/>
<line x1="359.25" y1="459.65" x2="268.95" y2="393.65" stroke="#45964a" stroke-width="10.08" stroke-linecap="round"/>
<line x1="359.25" y1="459.65" x2="268.95" y2="393.65" stroke="#5dbd5d" stroke-width="8.88" stroke-linecap="round"/>
<line x1="360.29" y1="457.09" x2="269.99" y2="391.09" stroke="#8ae08a" stroke-width="2" stroke-linecap="round"/>
<line x1="352.3" y1="462.1" x2="262" y2="396.1" stroke="#45964a" stroke-width="10.08" stroke-linecap="round"/>
<line x1="352.3" y1="462.1" x2="262" y2="396.1" stroke="#5dbd5d" stroke-width="8.88" stroke-linecap="round"/>
<line x1="353.34" y1="459.54" x2="263.04" y2="393.54" stroke="#8ae08a" stroke-width="2" stroke-linecap="round"/>
<line x1="414.85" y1="432.75" x2="324.55" y2="366.75" stroke="#45964a" stroke-width="10.08" stroke-linecap="round"/>
<line x1="414.85" y1="432.75" x2="324.55" y2="366.75" stroke="#5dbd5d" stroke-width="8.88" stroke-linecap="round"/>
<line x1="415.89" y1="430.19" x2="325.59" y2="364.19" stroke="#8ae08a" stroke-width="2" stroke-linecap="round"/>
<line x1="407.9" y1="435.2" x2="317.6" y2="369.2" stroke="#45964a" stroke-width="10.08" stroke-linecap="round"/>
<line x1="407.9" y1="435.2" x2="317.6" y2="369.2" stroke="#5dbd5d" stroke-width="8.88" stroke-linecap="round"/>
<line x1="408.94" y1="432.64" x2="318.64" y2="366.64" stroke="#8ae08a" stroke-width="2" stroke-linecap="round"/>
<line x1="400.95" y1="437.65" x2="310.65" y2="371.65" stroke="#45964a" stroke-width="10.08" stroke-linecap="round"/>
<line x1="400.95" y1="437.65" x2="310.65" y2="371.65" stroke="#5dbd5d" stroke-width="8.88" stroke-linecap="round"/>
<line x1="401.99" y1="435.09" x2="311.69" y2="369.09" stroke="#8ae08a" stroke-width="2" stroke-linecap="round"/>
<line x1="394" y1="440.1" x2="303.7" y2="374.1" stroke="#45964a" stroke-width="10.08" stroke-linecap="round"/>
<line x1="394" y1="440.1" x2="303.7" y2="374.1" stroke="#5dbd5d" stroke-width="8.88" stroke-linecap="round"/>
<line x1="395.04" y1="437.54" x2="304.74" y2="371.54" stroke="#8ae08a" stroke-width="2" stroke-linecap="round"/>
<line x1="363.57" y1="425.39" x2="296.75" y2="376.55" stroke="#45964a" stroke-width="10.08" stroke-linecap="round"/>
<line x1="363.57" y1="425.39" x2="296.75" y2="376.55" stroke="#5dbd5d" stroke-width="8.88" stroke-linecap="round"/>
<line x1="364.61" y1="422.83" x2="297.79" y2="373.99" stroke="#8ae08a" stroke-width="2" stroke-linecap="round"/>
<circle r="1" transform="matrix(4.31,-1.52,0,4.53,363.57,425.39)" fill="#3e7c41" stroke="#2b5c2e" stroke-width="0.6" vector-effect="non-scaling-stroke"/>
<line x1="356.62" y1="427.84" x2="289.8" y2="379" stroke="#45964a" stroke-width="10.08" stroke-linecap="round"/>
<line x1="356.62" y1="427.84" x2="289.8" y2="379" stroke="#5dbd5d" stroke-width="8.88" stroke-linecap="round"/>
<line x1="357.66" y1="425.28" x2="290.84" y2="376.44" stroke="#8ae08a" stroke-width="2" stroke-linecap="round"/>
<circle r="1" transform="matrix(4.31,-1.52,0,4.53,356.62,427.84)" fill="#3e7c41" stroke="#2b5c2e" stroke-width="0.6" vector-effect="non-scaling-stroke"/>
<line x1="373.15" y1="447.45" x2="282.85" y2="381.45" stroke="#45964a" stroke-width="10.08" stroke-linecap="round"/>
<line x1="373.15" y1="447.45" x2="282.85" y2="381.45" stroke="#5dbd5d" stroke-width="8.88" stroke-linecap="round"/>
<line x1="374.19" y1="444.89" x2="283.89" y2="378.89" stroke="#8ae08a" stroke-width="2" stroke-linecap="round"/>
<line x1="366.2" y1="449.9" x2="275.9" y2="383.9" stroke="#45964a" stroke-width="10.08" stroke-linecap="round"/>
<line x1="366.2" y1="449.9" x2="275.9" y2="383.9" stroke="#5dbd5d" stroke-width="8.88" stroke-linecap="round"/>
<line x1="367.24" y1="447.34" x2="276.94" y2="381.34" stroke="#8ae08a" stroke-width="2" stroke-linecap="round"/>
<line x1="359.25" y1="452.35" x2="268.95" y2="386.35" stroke="#45964a" stroke-width="10.08" stroke-linecap="round"/>
<line x1="359.25" y1="452.35" x2="268.95" y2="386.35" stroke="#5dbd5d" stroke-width="8.88" stroke-linecap="round"/>
<line x1="360.29" y1="449.79" x2="269.99" y2="383.79" stroke="#8ae08a" stroke-width="2" stroke-linecap="round"/>
<line x1="352.3" y1="454.8" x2="262" y2="388.8" stroke="#45964a" stroke-width="10.08" stroke-linecap="round"/>
<line x1="352.3" y1="454.8" x2="262" y2="388.8" stroke="#5dbd5d" stroke-width="8.88" stroke-linecap="round"/>
<line x1="353.34" y1="452.24" x2="263.04" y2="386.24" stroke="#8ae08a" stroke-width="2" stroke-linecap="round"/>
<line x1="414.85" y1="425.45" x2="324.55" y2="359.45" stroke="#45964a" stroke-width="10.08" stroke-linecap="round"/>
<line x1="414.85" y1="425.45" x2="324.55" y2="359.45" stroke="#5dbd5d" stroke-width="8.88" stroke-linecap="round"/>
<line x1="415.89" y1="422.89" x2="325.59" y2="356.89" stroke="#8ae08a" stroke-width="2" stroke-linecap="round"/>
<line x1="407.9" y1="427.9" x2="317.6" y2="361.9" stroke="#45964a" stroke-width="10.08" stroke-linecap="round"/>
<line x1="407.9" y1="427.9" x2="317.6" y2="361.9" stroke="#5dbd5d" stroke-width="8.88" stroke-linecap="round"/>
<line x1="408.94" y1="425.34" x2="318.64" y2="359.34" stroke="#8ae08a" stroke-width="2" stroke-linecap="round"/>
<line x1="400.95" y1="430.35" x2="310.65" y2="364.35" stroke="#45964a" stroke-width="10.08" stroke-linecap="round"/>
<line x1="400.95" y1="430.35" x2="310.65" y2="364.35" stroke="#5dbd5d" stroke-width="8.88" stroke-linecap="round"/>
<line x1="401.99" y1="427.79" x2="311.69" y2="361.79" stroke="#8ae08a" stroke-width="2" stroke-linecap="round"/>
<line x1="394" y1="432.8" x2="303.7" y2="366.8" stroke="#45964a" stroke-width="10.08" stroke-linecap="round"/>
<line x1="394" y1="432.8" x2="303.7" y2="366.8" stroke="#5dbd5d" stroke-width="8.88" stroke-linecap="round"/>
<line x1="395.04" y1="430.24" x2="304.74" y2="364.24" stroke="#8ae08a" stroke-width="2" stroke-linecap="round"/>
<line x1="363.57" y1="418.09" x2="296.75" y2="369.25" stroke="#45964a" stroke-width="10.08" stroke-linecap="round"/>
<line x1="363.57" y1="418.09" x2="296.75" y2="369.25" stroke="#5dbd5d" stroke-width="8.88" stroke-linecap="round"/>
<line x1="364.61" y1="415.53" x2="297.79" y2="366.69" stroke="#8ae08a" stroke-width="2" stroke-linecap="round"/>
<circle r="1" transform="matrix(4.31,-1.52,0,4.53,363.57,418.09)" fill="#3e7c41" stroke="#2b5c2e" stroke-width="0.6" vector-effect="non-scaling-stroke"/>
<line x1="356.62" y1="420.54" x2="289.8" y2="371.7" stroke="#45964a" stroke-width="10.08" stroke-linecap="round"/>
<line x1="356.62" y1="420.54" x2="289.8" y2="371.7" stroke="#5dbd5d" stroke-width="8.88" stroke-linecap="round"/>
<line x1="357.66" y1="417.98" x2="290.84" y2="369.14" stroke="#8ae08a" stroke-width="2" stroke-linecap="round"/>
<circle r="1" transform="matrix(4.31,-1.52,0,4.53,356.62,420.54)" fill="#3e7c41" stroke="#2b5c2e" stroke-width="0.6" vector-effect="non-scaling-stroke"/>
<line x1="373.15" y1="440.15" x2="282.85" y2="374.15" stroke="#45964a" stroke-width="10.08" stroke-linecap="round"/>
<line x1="373.15" y1="440.15" x2="282.85" y2="374.15" stroke="#5dbd5d" stroke-width="8.88" stroke-linecap="round"/>
<line x1="374.19" y1="437.59" x2="283.89" y2="371.59" stroke="#8ae08a" stroke-width="2" stroke-linecap="round"/>
<line x1="366.2" y1="442.6" x2="275.9" y2="376.6" stroke="#45964a" stroke-width="10.08" stroke-linecap="round"/>
<line x1="366.2" y1="442.6" x2="275.9" y2="376.6" stroke="#5dbd5d" stroke-width="8.88" stroke-linecap="round"/>
<line x1="367.24" y1="440.04" x2="276.94" y2="374.04" stroke="#8ae08a" stroke-width="2" stroke-linecap="round"/>
<line x1="359.25" y1="445.05" x2="268.95" y2="379.05" stroke="#45964a" stroke-width="10.08" stroke-linecap="round"/>
<line x1="359.25" y1="445.05" x2="268.95" y2="379.05" stroke="#5dbd5d" stroke-width="8.88" stroke-linecap="round"/>
<line x1="360.29" y1="442.49" x2="269.99" y2="376.49" stroke="#8ae08a" stroke-width="2" stroke-linecap="round"/>
<line x1="352.3" y1="447.5" x2="262" y2="381.5" stroke="#45964a" stroke-width="10.08" stroke-linecap="round"/>
<line x1="352.3" y1="447.5" x2="262" y2="381.5" stroke="#5dbd5d" stroke-width="8.88" stroke-linecap="round"/>
<line x1="353.34" y1="444.94" x2="263.04" y2="378.94" stroke="#8ae08a" stroke-width="2" stroke-linecap="round"/>
<circle r="1" transform="matrix(4.31,-1.52,0,4.53,414.85,440.05)" fill="#3e7c41" stroke="#2b5c2e" stroke-width="0.7" vector-effect="non-scaling-stroke"/>
<circle r="1" transform="matrix(4.31,-1.52,0,4.53,407.9,442.5)" fill="#3e7c41" stroke="#2b5c2e" stroke-width="0.7" vector-effect="non-scaling-stroke"/>
<circle r="1" transform="matrix(4.31,-1.52,0,4.53,400.95,444.95)" fill="#3e7c41" stroke="#2b5c2e" stroke-width="0.7" vector-effect="non-scaling-stroke"/>
<circle r="1" transform="matrix(4.31,-1.52,0,4.53,394,447.4)" fill="#3e7c41" stroke="#2b5c2e" stroke-width="0.7" vector-effect="non-scaling-stroke"/>
<circle r="1" transform="matrix(4.31,-1.52,0,4.53,373.15,454.75)" fill="#3e7c41" stroke="#2b5c2e" stroke-width="0.7" vector-effect="non-scaling-stroke"/>
<circle r="1" transform="matrix(4.31,-1.52,0,4.53,366.2,457.2)" fill="#3e7c41" stroke="#2b5c2e" stroke-width="0.7" vector-effect="non-scaling-stroke"/>
<circle r="1" transform="matrix(4.31,-1.52,0,4.53,359.25,459.65)" fill="#3e7c41" stroke="#2b5c2e" stroke-width="0.7" vector-effect="non-scaling-stroke"/>
<circle r="1" transform="matrix(4.31,-1.52,0,4.53,352.3,462.1)" fill="#3e7c41" stroke="#2b5c2e" stroke-width="0.7" vector-effect="non-scaling-stroke"/>
<circle r="1" transform="matrix(4.31,-1.52,0,4.53,414.85,432.75)" fill="#3e7c41" stroke="#2b5c2e" stroke-width="0.7" vector-effect="non-scaling-stroke"/>
<circle r="1" transform="matrix(4.31,-1.52,0,4.53,407.9,435.2)" fill="#3e7c41" stroke="#2b5c2e" stroke-width="0.7" vector-effect="non-scaling-stroke"/>
<circle r="1" transform="matrix(4.31,-1.52,0,4.53,400.95,437.65)" fill="#3e7c41" stroke="#2b5c2e" stroke-width="0.7" vector-effect="non-scaling-stroke"/>
<circle r="1" transform="matrix(4.31,-1.52,0,4.53,394,440.1)" fill="#3e7c41" stroke="#2b5c2e" stroke-width="0.7" vector-effect="non-scaling-stroke"/>
<circle r="1" transform="matrix(4.31,-1.52,0,4.53,373.15,447.45)" fill="#3e7c41" stroke="#2b5c2e" stroke-width="0.7" vector-effect="non-scaling-stroke"/>
<circle r="1" transform="matrix(4.31,-1.52,0,4.53,366.2,449.9)" fill="#3e7c41" stroke="#2b5c2e" stroke-width="0.7" vector-effect="non-scaling-stroke"/>
<circle r="1" transform="matrix(4.31,-1.52,0,4.53,359.25,452.35)" fill="#3e7c41" stroke="#2b5c2e" stroke-width="0.7" vector-effect="non-scaling-stroke"/>
<circle r="1" transform="matrix(4.31,-1.52,0,4.53,352.3,454.8)" fill="#3e7c41" stroke="#2b5c2e" stroke-width="0.7" vector-effect="non-scaling-stroke"/>
<circle r="1" transform="matrix(4.31,-1.52,0,4.53,414.85,425.45)" fill="#3e7c41" stroke="#2b5c2e" stroke-width="0.7" vector-effect="non-scaling-stroke"/>
<circle r="1" transform="matrix(4.31,-1.52,0,4.53,407.9,427.9)" fill="#3e7c41" stroke="#2b5c2e" stroke-width="0.7" vector-effect="non-scaling-stroke"/>
<circle r="1" transform="matrix(4.31,-1.52,0,4.53,400.95,430.35)" fill="#3e7c41" stroke="#2b5c2e" stroke-width="0.7" vector-effect="non-scaling-stroke"/>
<circle r="1" transform="matrix(4.31,-1.52,0,4.53,394,432.8)" fill="#3e7c41" stroke="#2b5c2e" stroke-width="0.7" vector-effect="non-scaling-stroke"/>
<circle r="1" transform="matrix(4.31,-1.52,0,4.53,373.15,440.15)" fill="#3e7c41" stroke="#2b5c2e" stroke-width="0.7" vector-effect="non-scaling-stroke"/>
<circle r="1" transform="matrix(4.31,-1.52,0,4.53,366.2,442.6)" fill="#3e7c41" stroke="#2b5c2e" stroke-width="0.7" vector-effect="non-scaling-stroke"/>
<circle r="1" transform="matrix(4.31,-1.52,0,4.53,359.25,445.05)" fill="#3e7c41" stroke="#2b5c2e" stroke-width="0.7" vector-effect="non-scaling-stroke"/>
<circle r="1" transform="matrix(4.31,-1.52,0,4.53,352.3,447.5)" fill="#3e7c41" stroke="#2b5c2e" stroke-width="0.7" vector-effect="non-scaling-stroke"/>
<circle cx="411.38" cy="437.62" r="1.15" fill="#a4d0a4"/>
<circle cx="404.43" cy="440.08" r="1.15" fill="#a4d0a4"/>
<circle cx="397.48" cy="442.53" r="1.15" fill="#a4d0a4"/>
<circle cx="369.68" cy="452.33" r="1.15" fill="#a4d0a4"/>
<circle cx="362.73" cy="454.78" r="1.15" fill="#a4d0a4"/>
<circle cx="355.77" cy="457.23" r="1.15" fill="#a4d0a4"/>
<circle cx="411.38" cy="430.32" r="1.15" fill="#a4d0a4"/>
<circle cx="404.43" cy="432.77" r="1.15" fill="#a4d0a4"/>
<circle cx="397.48" cy="435.23" r="1.15" fill="#a4d0a4"/>
<circle cx="369.68" cy="445.02" r="1.15" fill="#a4d0a4"/>
<circle cx="362.73" cy="447.48" r="1.15" fill="#a4d0a4"/>
<circle cx="355.77" cy="449.93" r="1.15" fill="#a4d0a4"/>
<polygon points="490,226 500,224.2 599.5,241.2 599.5,313.2 594.5,314.1 589.5,315 490,298" fill="#245e29" stroke="#245e29" stroke-width="6.78" stroke-linejoin="round"/>
<line x1="599.5" y1="313.2" x2="500" y2="296.2" stroke="#245e29" stroke-width="9.64" stroke-linecap="round"/>
<line x1="599.5" y1="313.2" x2="500" y2="296.2" stroke="#327a38" stroke-width="8.44" stroke-linecap="round"/>
<line x1="599.5" y1="312.4" x2="500" y2="295.4" stroke="#3d8943" stroke-width="2.4" stroke-linecap="round"/>
<line x1="599.5" y1="305.2" x2="500" y2="288.2" stroke="#245e29" stroke-width="9.64" stroke-linecap="round"/>
<line x1="599.5" y1="305.2" x2="500" y2="288.2" stroke="#327a38" stroke-width="8.44" stroke-linecap="round"/>
<line x1="599.5" y1="304.4" x2="500" y2="287.4" stroke="#3d8943" stroke-width="2.4" stroke-linecap="round"/>
<line x1="599.5" y1="297.2" x2="500" y2="280.2" stroke="#245e29" stroke-width="9.64" stroke-linecap="round"/>
<line x1="599.5" y1="297.2" x2="500" y2="280.2" stroke="#327a38" stroke-width="8.44" stroke-linecap="round"/>
<line x1="599.5" y1="296.4" x2="500" y2="279.4" stroke="#3d8943" stroke-width="2.4" stroke-linecap="round"/>
<line x1="599.5" y1="289.2" x2="500" y2="272.2" stroke="#245e29" stroke-width="9.64" stroke-linecap="round"/>
<line x1="599.5" y1="289.2" x2="500" y2="272.2" stroke="#327a38" stroke-width="8.44" stroke-linecap="round"/>
<line x1="599.5" y1="288.4" x2="500" y2="271.4" stroke="#3d8943" stroke-width="2.4" stroke-linecap="round"/>
<line x1="599.5" y1="281.2" x2="500" y2="264.2" stroke="#245e29" stroke-width="9.64" stroke-linecap="round"/>
<line x1="599.5" y1="281.2" x2="500" y2="264.2" stroke="#327a38" stroke-width="8.44" stroke-linecap="round"/>
<line x1="599.5" y1="280.4" x2="500" y2="263.4" stroke="#3d8943" stroke-width="2.4" stroke-linecap="round"/>
<line x1="599.5" y1="273.2" x2="500" y2="256.2" stroke="#245e29" stroke-width="9.64" stroke-linecap="round"/>
<line x1="599.5" y1="273.2" x2="500" y2="256.2" stroke="#327a38" stroke-width="8.44" stroke-linecap="round"/>
<line x1="599.5" y1="272.4" x2="500" y2="255.4" stroke="#3d8943" stroke-width="2.4" stroke-linecap="round"/>
<line x1="599.5" y1="265.2" x2="500" y2="248.2" stroke="#245e29" stroke-width="9.64" stroke-linecap="round"/>
<line x1="599.5" y1="265.2" x2="500" y2="248.2" stroke="#327a38" stroke-width="8.44" stroke-linecap="round"/>
<line x1="599.5" y1="264.4" x2="500" y2="247.4" stroke="#3d8943" stroke-width="2.4" stroke-linecap="round"/>
<line x1="599.5" y1="257.2" x2="500" y2="240.2" stroke="#245e29" stroke-width="9.64" stroke-linecap="round"/>
<line x1="599.5" y1="257.2" x2="500" y2="240.2" stroke="#327a38" stroke-width="8.44" stroke-linecap="round"/>
<line x1="599.5" y1="256.4" x2="500" y2="239.4" stroke="#3d8943" stroke-width="2.4" stroke-linecap="round"/>
<line x1="599.5" y1="249.2" x2="500" y2="232.2" stroke="#245e29" stroke-width="9.64" stroke-linecap="round"/>
<line x1="599.5" y1="249.2" x2="500" y2="232.2" stroke="#327a38" stroke-width="8.44" stroke-linecap="round"/>
<line x1="599.5" y1="248.4" x2="500" y2="231.4" stroke="#3d8943" stroke-width="2.4" stroke-linecap="round"/>
<line x1="599.5" y1="241.2" x2="500" y2="224.2" stroke="#245e29" stroke-width="9.64" stroke-linecap="round"/>
<line x1="599.5" y1="241.2" x2="500" y2="224.2" stroke="#327a38" stroke-width="8.44" stroke-linecap="round"/>
<line x1="599.5" y1="240.4" x2="500" y2="223.4" stroke="#3d8943" stroke-width="2.4" stroke-linecap="round"/>
<line x1="594.5" y1="314.1" x2="495" y2="297.1" stroke="#245e29" stroke-width="9.64" stroke-linecap="round"/>
<line x1="594.5" y1="314.1" x2="495" y2="297.1" stroke="#327a38" stroke-width="8.44" stroke-linecap="round"/>
<line x1="594.5" y1="313.3" x2="495" y2="296.3" stroke="#3d8943" stroke-width="2.4" stroke-linecap="round"/>
<line x1="594.5" y1="306.1" x2="495" y2="289.1" stroke="#245e29" stroke-width="9.64" stroke-linecap="round"/>
<line x1="594.5" y1="306.1" x2="495" y2="289.1" stroke="#327a38" stroke-width="8.44" stroke-linecap="round"/>
<line x1="594.5" y1="305.3" x2="495" y2="288.3" stroke="#3d8943" stroke-width="2.4" stroke-linecap="round"/>
<line x1="594.5" y1="298.1" x2="495" y2="281.1" stroke="#245e29" stroke-width="9.64" stroke-linecap="round"/>
<line x1="594.5" y1="298.1" x2="495" y2="281.1" stroke="#327a38" stroke-width="8.44" stroke-linecap="round"/>
<line x1="594.5" y1="297.3" x2="495" y2="280.3" stroke="#3d8943" stroke-width="2.4" stroke-linecap="round"/>
<line x1="594.5" y1="290.1" x2="495" y2="273.1" stroke="#245e29" stroke-width="9.64" stroke-linecap="round"/>
<line x1="594.5" y1="290.1" x2="495" y2="273.1" stroke="#327a38" stroke-width="8.44" stroke-linecap="round"/>
<line x1="594.5" y1="289.3" x2="495" y2="272.3" stroke="#3d8943" stroke-width="2.4" stroke-linecap="round"/>
<line x1="594.5" y1="282.1" x2="495" y2="265.1" stroke="#245e29" stroke-width="9.64" stroke-linecap="round"/>
<line x1="594.5" y1="282.1" x2="495" y2="265.1" stroke="#327a38" stroke-width="8.44" stroke-linecap="round"/>
<line x1="594.5" y1="281.3" x2="495" y2="264.3" stroke="#3d8943" stroke-width="2.4" stroke-linecap="round"/>
<line x1="594.5" y1="274.1" x2="495" y2="257.1" stroke="#245e29" stroke-width="9.64" stroke-linecap="round"/>
<line x1="594.5" y1="274.1" x2="495" y2="257.1" stroke="#327a38" stroke-width="8.44" stroke-linecap="round"/>
<line x1="594.5" y1="273.3" x2="495" y2="256.3" stroke="#3d8943" stroke-width="2.4" stroke-linecap="round"/>
<line x1="594.5" y1="266.1" x2="495" y2="249.1" stroke="#245e29" stroke-width="9.64" stroke-linecap="round"/>
<line x1="594.5" y1="266.1" x2="495" y2="249.1" stroke="#327a38" stroke-width="8.44" stroke-linecap="round"/>
<line x1="594.5" y1="265.3" x2="495" y2="248.3" stroke="#3d8943" stroke-width="2.4" stroke-linecap="round"/>
<line x1="594.5" y1="258.1" x2="495" y2="241.1" stroke="#245e29" stroke-width="9.64" stroke-linecap="round"/>
<line x1="594.5" y1="258.1" x2="495" y2="241.1" stroke="#327a38" stroke-width="8.44" stroke-linecap="round"/>
<line x1="594.5" y1="257.3" x2="495" y2="240.3" stroke="#3d8943" stroke-width="2.4" stroke-linecap="round"/>
<line x1="594.5" y1="250.1" x2="495" y2="233.1" stroke="#245e29" stroke-width="9.64" stroke-linecap="round"/>
<line x1="594.5" y1="250.1" x2="495" y2="233.1" stroke="#327a38" stroke-width="8.44" stroke-linecap="round"/>
<line x1="594.5" y1="249.3" x2="495" y2="232.3" stroke="#3d8943" stroke-width="2.4" stroke-linecap="round"/>
<line x1="594.5" y1="242.1" x2="495" y2="225.1" stroke="#245e29" stroke-width="9.64" stroke-linecap="round"/>
<line x1="594.5" y1="242.1" x2="495" y2="225.1" stroke="#327a38" stroke-width="8.44" stroke-linecap="round"/>
<line x1="594.5" y1="241.3" x2="495" y2="224.3" stroke="#3d8943" stroke-width="2.4" stroke-linecap="round"/>
<line x1="589.5" y1="315" x2="490" y2="298" stroke="#245e29" stroke-width="9.64" stroke-linecap="round"/>
<line x1="589.5" y1="315" x2="490" y2="298" stroke="#327a38" stroke-width="8.44" stroke-linecap="round"/>
<line x1="589.5" y1="314.2" x2="490" y2="297.2" stroke="#3d8943" stroke-width="2.4" stroke-linecap="round"/>
<line x1="589.5" y1="307" x2="490" y2="290" stroke="#245e29" stroke-width="9.64" stroke-linecap="round"/>
<line x1="589.5" y1="307" x2="490" y2="290" stroke="#327a38" stroke-width="8.44" stroke-linecap="round"/>
<line x1="589.5" y1="306.2" x2="490" y2="289.2" stroke="#3d8943" stroke-width="2.4" stroke-linecap="round"/>
<line x1="589.5" y1="299" x2="490" y2="282" stroke="#245e29" stroke-width="9.64" stroke-linecap="round"/>
<line x1="589.5" y1="299" x2="490" y2="282" stroke="#327a38" stroke-width="8.44" stroke-linecap="round"/>
<line x1="589.5" y1="298.2" x2="490" y2="281.2" stroke="#3d8943" stroke-width="2.4" stroke-linecap="round"/>
<line x1="589.5" y1="291" x2="490" y2="274" stroke="#245e29" stroke-width="9.64" stroke-linecap="round"/>
<line x1="589.5" y1="291" x2="490" y2="274" stroke="#327a38" stroke-width="8.44" stroke-linecap="round"/>
<line x1="589.5" y1="290.2" x2="490" y2="273.2" stroke="#3d8943" stroke-width="2.4" stroke-linecap="round"/>
<line x1="589.5" y1="283" x2="490" y2="266" stroke="#245e29" stroke-width="9.64" stroke-linecap="round"/>
<line x1="589.5" y1="283" x2="490" y2="266" stroke="#327a38" stroke-width="8.44" stroke-linecap="round"/>
<line x1="589.5" y1="282.2" x2="490" y2="265.2" stroke="#3d8943" stroke-width="2.4" stroke-linecap="round"/>
<line x1="589.5" y1="275" x2="490" y2="258" stroke="#245e29" stroke-width="9.64" stroke-linecap="round"/>
<line x1="589.5" y1="275" x2="490" y2="258" stroke="#327a38" stroke-width="8.44" stroke-linecap="round"/>
<line x1="589.5" y1="274.2" x2="490" y2="257.2" stroke="#3d8943" stroke-width="2.4" stroke-linecap="round"/>
<line x1="589.5" y1="267" x2="490" y2="250" stroke="#245e29" stroke-width="9.64" stroke-linecap="round"/>
<line x1="589.5" y1="267" x2="490" y2="250" stroke="#327a38" stroke-width="8.44" stroke-linecap="round"/>
<line x1="589.5" y1="266.2" x2="490" y2="249.2" stroke="#3d8943" stroke-width="2.4" stroke-linecap="round"/>
<line x1="589.5" y1="259" x2="490" y2="242" stroke="#245e29" stroke-width="9.64" stroke-linecap="round"/>
<line x1="589.5" y1="259" x2="490" y2="242" stroke="#327a38" stroke-width="8.44" stroke-linecap="round"/>
<line x1="589.5" y1="258.2" x2="490" y2="241.2" stroke="#3d8943" stroke-width="2.4" stroke-linecap="round"/>
<line x1="589.5" y1="251" x2="490" y2="234" stroke="#245e29" stroke-width="9.64" stroke-linecap="round"/>
<line x1="589.5" y1="251" x2="490" y2="234" stroke="#327a38" stroke-width="8.44" stroke-linecap="round"/>
<line x1="589.5" y1="250.2" x2="490" y2="233.2" stroke="#3d8943" stroke-width="2.4" stroke-linecap="round"/>
<line x1="589.5" y1="243" x2="490" y2="226" stroke="#245e29" stroke-width="9.64" stroke-linecap="round"/>
<line x1="589.5" y1="243" x2="490" y2="226" stroke="#327a38" stroke-width="8.44" stroke-linecap="round"/>
<line x1="589.5" y1="242.2" x2="490" y2="225.2" stroke="#3d8943" stroke-width="2.4" stroke-linecap="round"/>
<circle r="1" transform="matrix(2.8,-0.5,0,4.48,599.5,313.2)" fill="#2d6c32" stroke="#1f5223" stroke-width="0.7" vector-effect="non-scaling-stroke"/>
<circle r="1" transform="matrix(2.8,-0.5,0,4.48,599.5,305.2)" fill="#2d6c32" stroke="#1f5223" stroke-width="0.7" vector-effect="non-scaling-stroke"/>
<circle r="1" transform="matrix(2.8,-0.5,0,4.48,599.5,297.2)" fill="#2d6c32" stroke="#1f5223" stroke-width="0.7" vector-effect="non-scaling-stroke"/>
<circle r="1" transform="matrix(2.8,-0.5,0,4.48,599.5,289.2)" fill="#2d6c32" stroke="#1f5223" stroke-width="0.7" vector-effect="non-scaling-stroke"/>
<circle r="1" transform="matrix(2.8,-0.5,0,4.48,599.5,281.2)" fill="#2d6c32" stroke="#1f5223" stroke-width="0.7" vector-effect="non-scaling-stroke"/>
<circle r="1" transform="matrix(2.8,-0.5,0,4.48,599.5,273.2)" fill="#2d6c32" stroke="#1f5223" stroke-width="0.7" vector-effect="non-scaling-stroke"/>
<circle r="1" transform="matrix(2.8,-0.5,0,4.48,599.5,265.2)" fill="#2d6c32" stroke="#1f5223" stroke-width="0.7" vector-effect="non-scaling-stroke"/>
<circle r="1" transform="matrix(2.8,-0.5,0,4.48,599.5,257.2)" fill="#2d6c32" stroke="#1f5223" stroke-width="0.7" vector-effect="non-scaling-stroke"/>
<circle r="1" transform="matrix(2.8,-0.5,0,4.48,599.5,249.2)" fill="#2d6c32" stroke="#1f5223" stroke-width="0.7" vector-effect="non-scaling-stroke"/>
<circle r="1" transform="matrix(2.8,-0.5,0,4.48,599.5,241.2)" fill="#2d6c32" stroke="#1f5223" stroke-width="0.7" vector-effect="non-scaling-stroke"/>
<circle r="1" transform="matrix(2.8,-0.5,0,4.48,594.5,314.1)" fill="#2d6c32" stroke="#1f5223" stroke-width="0.7" vector-effect="non-scaling-stroke"/>
<circle r="1" transform="matrix(2.8,-0.5,0,4.48,594.5,306.1)" fill="#2d6c32" stroke="#1f5223" stroke-width="0.7" vector-effect="non-scaling-stroke"/>
<circle r="1" transform="matrix(2.8,-0.5,0,4.48,594.5,298.1)" fill="#2d6c32" stroke="#1f5223" stroke-width="0.7" vector-effect="non-scaling-stroke"/>
<circle r="1" transform="matrix(2.8,-0.5,0,4.48,594.5,290.1)" fill="#2d6c32" stroke="#1f5223" stroke-width="0.7" vector-effect="non-scaling-stroke"/>
<circle r="1" transform="matrix(2.8,-0.5,0,4.48,594.5,282.1)" fill="#2d6c32" stroke="#1f5223" stroke-width="0.7" vector-effect="non-scaling-stroke"/>
<circle r="1" transform="matrix(2.8,-0.5,0,4.48,594.5,274.1)" fill="#2d6c32" stroke="#1f5223" stroke-width="0.7" vector-effect="non-scaling-stroke"/>
<circle r="1" transform="matrix(2.8,-0.5,0,4.48,594.5,266.1)" fill="#2d6c32" stroke="#1f5223" stroke-width="0.7" vector-effect="non-scaling-stroke"/>
<circle r="1" transform="matrix(2.8,-0.5,0,4.48,594.5,258.1)" fill="#2d6c32" stroke="#1f5223" stroke-width="0.7" vector-effect="non-scaling-stroke"/>
<circle r="1" transform="matrix(2.8,-0.5,0,4.48,594.5,250.1)" fill="#2d6c32" stroke="#1f5223" stroke-width="0.7" vector-effect="non-scaling-stroke"/>
<circle r="1" transform="matrix(2.8,-0.5,0,4.48,594.5,242.1)" fill="#2d6c32" stroke="#1f5223" stroke-width="0.7" vector-effect="non-scaling-stroke"/>
<circle r="1" transform="matrix(2.8,-0.5,0,4.48,589.5,315)" fill="#2d6c32" stroke="#1f5223" stroke-width="0.7" vector-effect="non-scaling-stroke"/>
<circle r="1" transform="matrix(2.8,-0.5,0,4.48,589.5,307)" fill="#2d6c32" stroke="#1f5223" stroke-width="0.7" vector-effect="non-scaling-stroke"/>
<circle r="1" transform="matrix(2.8,-0.5,0,4.48,589.5,299)" fill="#2d6c32" stroke="#1f5223" stroke-width="0.7" vector-effect="non-scaling-stroke"/>
<circle r="1" transform="matrix(2.8,-0.5,0,4.48,589.5,291)" fill="#2d6c32" stroke="#1f5223" stroke-width="0.7" vector-effect="non-scaling-stroke"/>
<circle r="1" transform="matrix(2.8,-0.5,0,4.48,589.5,283)" fill="#2d6c32" stroke="#1f5223" stroke-width="0.7" vector-effect="non-scaling-stroke"/>
<circle r="1" transform="matrix(2.8,-0.5,0,4.48,589.5,275)" fill="#2d6c32" stroke="#1f5223" stroke-width="0.7" vector-effect="non-scaling-stroke"/>
<circle r="1" transform="matrix(2.8,-0.5,0,4.48,589.5,267)" fill="#2d6c32" stroke="#1f5223" stroke-width="0.7" vector-effect="non-scaling-stroke"/>
<circle r="1" transform="matrix(2.8,-0.5,0,4.48,589.5,259)" fill="#2d6c32" stroke="#1f5223" stroke-width="0.7" vector-effect="non-scaling-stroke"/>
<circle r="1" transform="matrix(2.8,-0.5,0,4.48,589.5,251)" fill="#2d6c32" stroke="#1f5223" stroke-width="0.7" vector-effect="non-scaling-stroke"/>
<circle r="1" transform="matrix(2.8,-0.5,0,4.48,589.5,243)" fill="#2d6c32" stroke="#1f5223" stroke-width="0.7" vector-effect="non-scaling-stroke"/>
<circle cx="597" cy="309.65" r="0.7" fill="#4d8a50"/>
<circle cx="597" cy="301.65" r="0.7" fill="#4d8a50"/>
<circle cx="597" cy="293.65" r="0.7" fill="#4d8a50"/>
<circle cx="597" cy="285.65" r="0.7" fill="#4d8a50"/>
<circle cx="597" cy="277.65" r="0.7" fill="#4d8a50"/>
<circle cx="597" cy="269.65" r="0.7" fill="#4d8a50"/>
<circle cx="597" cy="261.65" r="0.7" fill="#4d8a50"/>
<circle cx="597" cy="253.65" r="0.7" fill="#4d8a50"/>
<circle cx="597" cy="245.65" r="0.7" fill="#4d8a50"/>
<circle cx="592" cy="310.55" r="0.7" fill="#4d8a50"/>
<circle cx="592" cy="302.55" r="0.7" fill="#4d8a50"/>
<circle cx="592" cy="294.55" r="0.7" fill="#4d8a50"/>
<circle cx="592" cy="286.55" r="0.7" fill="#4d8a50"/>
<circle cx="592" cy="278.55" r="0.7" fill="#4d8a50"/>
<circle cx="592" cy="270.55" r="0.7" fill="#4d8a50"/>
<circle cx="592" cy="262.55" r="0.7" fill="#4d8a50"/>
<circle cx="592" cy="254.55" r="0.7" fill="#4d8a50"/>
<circle cx="592" cy="246.55" r="0.7" fill="#4d8a50"/>
<polygon points="487.5,358 497.5,356.2 599.5,372.7 599.5,396.7 594.5,397.6 589.5,398.5 487.5,382" fill="#0f5c11" stroke="#0f5c11" stroke-width="6.78" stroke-linejoin="round"/>
<polygon points="487.5,406 497.5,404.2 599.5,420.7 599.5,444.7 594.5,445.6 589.5,446.5 487.5,430" fill="#0f5c11" stroke="#0f5c11" stroke-width="6.78" stroke-linejoin="round"/>
<polygon points="487.5,390 497.5,388.2 564.82,399.09 564.82,407.09 559.82,407.99 554.82,408.89 487.5,398" fill="#0f5c11" stroke="#0f5c11" stroke-width="6.78" stroke-linejoin="round"/>
<line x1="599.5" y1="444.7" x2="497.5" y2="428.2" stroke="#0f5c11" stroke-width="9.64" stroke-linecap="round"/>
<line x1="599.5" y1="444.7" x2="497.5" y2="428.2" stroke="#137213" stroke-width="8.44" stroke-linecap="round"/>
<line x1="599.5" y1="443.9" x2="497.5" y2="427.4" stroke="#1b7f1b" stroke-width="2.4" stroke-linecap="round"/>
<line x1="599.5" y1="436.7" x2="497.5" y2="420.2" stroke="#0f5c11" stroke-width="9.64" stroke-linecap="round"/>
<line x1="599.5" y1="436.7" x2="497.5" y2="420.2" stroke="#137213" stroke-width="8.44" stroke-linecap="round"/>
<line x1="599.5" y1="435.9" x2="497.5" y2="419.4" stroke="#1b7f1b" stroke-width="2.4" stroke-linecap="round"/>
<line x1="599.5" y1="428.7" x2="497.5" y2="412.2" stroke="#0f5c11" stroke-width="9.64" stroke-linecap="round"/>
<line x1="599.5" y1="428.7" x2="497.5" y2="412.2" stroke="#137213" stroke-width="8.44" stroke-linecap="round"/>
<line x1="599.5" y1="427.9" x2="497.5" y2="411.4" stroke="#1b7f1b" stroke-width="2.4" stroke-linecap="round"/>
<line x1="599.5" y1="420.7" x2="497.5" y2="404.2" stroke="#0f5c11" stroke-width="9.64" stroke-linecap="round"/>
<line x1="599.5" y1="420.7" x2="497.5" y2="404.2" stroke="#137213" stroke-width="8.44" stroke-linecap="round"/>
<line x1="599.5" y1="419.9" x2="497.5" y2="403.4" stroke="#1b7f1b" stroke-width="2.4" stroke-linecap="round"/>
<line x1="564.82" y1="407.09" x2="497.5" y2="396.2" stroke="#0f5c11" stroke-width="9.64" stroke-linecap="round"/>
<line x1="564.82" y1="407.09" x2="497.5" y2="396.2" stroke="#137213" stroke-width="8.44" stroke-linecap="round"/>
<line x1="564.82" y1="406.29" x2="497.5" y2="395.4" stroke="#1b7f1b" stroke-width="2.4" stroke-linecap="round"/>
<circle r="1" transform="matrix(2.8,-0.5,0,4.48,564.82,407.09)" fill="#10620f" stroke="#0b500b" stroke-width="0.6" vector-effect="non-scaling-stroke"/>
<line x1="564.82" y1="399.09" x2="497.5" y2="388.2" stroke="#0f5c11" stroke-width="9.64" stroke-linecap="round"/>
<line x1="564.82" y1="399.09" x2="497.5" y2="388.2" stroke="#137213" stroke-width="8.44" stroke-linecap="round"/>
<line x1="564.82" y1="398.29" x2="497.5" y2="387.4" stroke="#1b7f1b" stroke-width="2.4" stroke-linecap="round"/>
<circle r="1" transform="matrix(2.8,-0.5,0,4.48,564.82,399.09)" fill="#10620f" stroke="#0b500b" stroke-width="0.6" vector-effect="non-scaling-stroke"/>
<line x1="599.5" y1="396.7" x2="497.5" y2="380.2" stroke="#0f5c11" stroke-width="9.64" stroke-linecap="round"/>
<line x1="599.5" y1="396.7" x2="497.5" y2="380.2" stroke="#137213" stroke-width="8.44" stroke-linecap="round"/>
<line x1="599.5" y1="395.9" x2="497.5" y2="379.4" stroke="#1b7f1b" stroke-width="2.4" stroke-linecap="round"/>
<line x1="599.5" y1="388.7" x2="497.5" y2="372.2" stroke="#0f5c11" stroke-width="9.64" stroke-linecap="round"/>
<line x1="599.5" y1="388.7" x2="497.5" y2="372.2" stroke="#137213" stroke-width="8.44" stroke-linecap="round"/>
<line x1="599.5" y1="387.9" x2="497.5" y2="371.4" stroke="#1b7f1b" stroke-width="2.4" stroke-linecap="round"/>
<line x1="599.5" y1="380.7" x2="497.5" y2="364.2" stroke="#0f5c11" stroke-width="9.64" stroke-linecap="round"/>
<line x1="599.5" y1="380.7" x2="497.5" y2="364.2" stroke="#137213" stroke-width="8.44" stroke-linecap="round"/>
<line x1="599.5" y1="379.9" x2="497.5" y2="363.4" stroke="#1b7f1b" stroke-width="2.4" stroke-linecap="round"/>
<line x1="599.5" y1="372.7" x2="497.5" y2="356.2" stroke="#0f5c11" stroke-width="9.64" stroke-linecap="round"/>
<line x1="599.5" y1="372.7" x2="497.5" y2="356.2" stroke="#137213" stroke-width="8.44" stroke-linecap="round"/>
<line x1="599.5" y1="371.9" x2="497.5" y2="355.4" stroke="#1b7f1b" stroke-width="2.4" stroke-linecap="round"/>
<line x1="594.5" y1="445.6" x2="492.5" y2="429.1" stroke="#0f5c11" stroke-width="9.64" stroke-linecap="round"/>
<line x1="594.5" y1="445.6" x2="492.5" y2="429.1" stroke="#137213" stroke-width="8.44" stroke-linecap="round"/>
<line x1="594.5" y1="444.8" x2="492.5" y2="428.3" stroke="#1b7f1b" stroke-width="2.4" stroke-linecap="round"/>
<line x1="594.5" y1="437.6" x2="492.5" y2="421.1" stroke="#0f5c11" stroke-width="9.64" stroke-linecap="round"/>
<line x1="594.5" y1="437.6" x2="492.5" y2="421.1" stroke="#137213" stroke-width="8.44" stroke-linecap="round"/>
<line x1="594.5" y1="436.8" x2="492.5" y2="420.3" stroke="#1b7f1b" stroke-width="2.4" stroke-linecap="round"/>
<line x1="594.5" y1="429.6" x2="492.5" y2="413.1" stroke="#0f5c11" stroke-width="9.64" stroke-linecap="round"/>
<line x1="594.5" y1="429.6" x2="492.5" y2="413.1" stroke="#137213" stroke-width="8.44" stroke-linecap="round"/>
<line x1="594.5" y1="428.8" x2="492.5" y2="412.3" stroke="#1b7f1b" stroke-width="2.4" stroke-linecap="round"/>
<line x1="594.5" y1="421.6" x2="492.5" y2="405.1" stroke="#0f5c11" stroke-width="9.64" stroke-linecap="round"/>
<line x1="594.5" y1="421.6" x2="492.5" y2="405.1" stroke="#137213" stroke-width="8.44" stroke-linecap="round"/>
<line x1="594.5" y1="420.8" x2="492.5" y2="404.3" stroke="#1b7f1b" stroke-width="2.4" stroke-linecap="round"/>
<line x1="559.82" y1="407.99" x2="492.5" y2="397.1" stroke="#0f5c11" stroke-width="9.64" stroke-linecap="round"/>
<line x1="559.82" y1="407.99" x2="492.5" y2="397.1" stroke="#137213" stroke-width="8.44" stroke-linecap="round"/>
<line x1="559.82" y1="407.19" x2="492.5" y2="396.3" stroke="#1b7f1b" stroke-width="2.4" stroke-linecap="round"/>
<circle r="1" transform="matrix(2.8,-0.5,0,4.48,559.82,407.99)" fill="#10620f" stroke="#0b500b" stroke-width="0.6" vector-effect="non-scaling-stroke"/>
<line x1="559.82" y1="399.99" x2="492.5" y2="389.1" stroke="#0f5c11" stroke-width="9.64" stroke-linecap="round"/>
<line x1="559.82" y1="399.99" x2="492.5" y2="389.1" stroke="#137213" stroke-width="8.44" stroke-linecap="round"/>
<line x1="559.82" y1="399.19" x2="492.5" y2="388.3" stroke="#1b7f1b" stroke-width="2.4" stroke-linecap="round"/>
<circle r="1" transform="matrix(2.8,-0.5,0,4.48,559.82,399.99)" fill="#10620f" stroke="#0b500b" stroke-width="0.6" vector-effect="non-scaling-stroke"/>
<line x1="594.5" y1="397.6" x2="492.5" y2="381.1" stroke="#0f5c11" stroke-width="9.64" stroke-linecap="round"/>
<line x1="594.5" y1="397.6" x2="492.5" y2="381.1" stroke="#137213" stroke-width="8.44" stroke-linecap="round"/>
<line x1="594.5" y1="396.8" x2="492.5" y2="380.3" stroke="#1b7f1b" stroke-width="2.4" stroke-linecap="round"/>
<line x1="594.5" y1="389.6" x2="492.5" y2="373.1" stroke="#0f5c11" stroke-width="9.64" stroke-linecap="round"/>
<line x1="594.5" y1="389.6" x2="492.5" y2="373.1" stroke="#137213" stroke-width="8.44" stroke-linecap="round"/>
<line x1="594.5" y1="388.8" x2="492.5" y2="372.3" stroke="#1b7f1b" stroke-width="2.4" stroke-linecap="round"/>
<line x1="594.5" y1="381.6" x2="492.5" y2="365.1" stroke="#0f5c11" stroke-width="9.64" stroke-linecap="round"/>
<line x1="594.5" y1="381.6" x2="492.5" y2="365.1" stroke="#137213" stroke-width="8.44" stroke-linecap="round"/>
<line x1="594.5" y1="380.8" x2="492.5" y2="364.3" stroke="#1b7f1b" stroke-width="2.4" stroke-linecap="round"/>
<line x1="594.5" y1="373.6" x2="492.5" y2="357.1" stroke="#0f5c11" stroke-width="9.64" stroke-linecap="round"/>
<line x1="594.5" y1="373.6" x2="492.5" y2="357.1" stroke="#137213" stroke-width="8.44" stroke-linecap="round"/>
<line x1="594.5" y1="372.8" x2="492.5" y2="356.3" stroke="#1b7f1b" stroke-width="2.4" stroke-linecap="round"/>
<line x1="589.5" y1="446.5" x2="487.5" y2="430" stroke="#0f5c11" stroke-width="9.64" stroke-linecap="round"/>
<line x1="589.5" y1="446.5" x2="487.5" y2="430" stroke="#137213" stroke-width="8.44" stroke-linecap="round"/>
<line x1="589.5" y1="445.7" x2="487.5" y2="429.2" stroke="#1b7f1b" stroke-width="2.4" stroke-linecap="round"/>
<line x1="589.5" y1="438.5" x2="487.5" y2="422" stroke="#0f5c11" stroke-width="9.64" stroke-linecap="round"/>
<line x1="589.5" y1="438.5" x2="487.5" y2="422" stroke="#137213" stroke-width="8.44" stroke-linecap="round"/>
<line x1="589.5" y1="437.7" x2="487.5" y2="421.2" stroke="#1b7f1b" stroke-width="2.4" stroke-linecap="round"/>
<line x1="589.5" y1="430.5" x2="487.5" y2="414" stroke="#0f5c11" stroke-width="9.64" stroke-linecap="round"/>
<line x1="589.5" y1="430.5" x2="487.5" y2="414" stroke="#137213" stroke-width="8.44" stroke-linecap="round"/>
<line x1="589.5" y1="429.7" x2="487.5" y2="413.2" stroke="#1b7f1b" stroke-width="2.4" stroke-linecap="round"/>
<line x1="589.5" y1="422.5" x2="487.5" y2="406" stroke="#0f5c11" stroke-width="9.64" stroke-linecap="round"/>
<line x1="589.5" y1="422.5" x2="487.5" y2="406" stroke="#137213" stroke-width="8.44" stroke-linecap="round"/>
<line x1="589.5" y1="421.7" x2="487.5" y2="405.2" stroke="#1b7f1b" stroke-width="2.4" stroke-linecap="round"/>
<line x1="554.82" y1="408.89" x2="487.5" y2="398" stroke="#0f5c11" stroke-width="9.64" stroke-linecap="round"/>
<line x1="554.82" y1="408.89" x2="487.5" y2="398" stroke="#137213" stroke-width="8.44" stroke-linecap="round"/>
<line x1="554.82" y1="408.09" x2="487.5" y2="397.2" stroke="#1b7f1b" stroke-width="2.4" stroke-linecap="round"/>
<circle r="1" transform="matrix(2.8,-0.5,0,4.48,554.82,408.89)" fill="#10620f" stroke="#0b500b" stroke-width="0.6" vector-effect="non-scaling-stroke"/>
<line x1="554.82" y1="400.89" x2="487.5" y2="390" stroke="#0f5c11" stroke-width="9.64" stroke-linecap="round"/>
<line x1="554.82" y1="400.89" x2="487.5" y2="390" stroke="#137213" stroke-width="8.44" stroke-linecap="round"/>
<line x1="554.82" y1="400.09" x2="487.5" y2="389.2" stroke="#1b7f1b" stroke-width="2.4" stroke-linecap="round"/>
<circle r="1" transform="matrix(2.8,-0.5,0,4.48,554.82,400.89)" fill="#10620f" stroke="#0b500b" stroke-width="0.6" vector-effect="non-scaling-stroke"/>
<line x1="589.5" y1="398.5" x2="487.5" y2="382" stroke="#0f5c11" stroke-width="9.64" stroke-linecap="round"/>
<line x1="589.5" y1="398.5" x2="487.5" y2="382" stroke="#137213" stroke-width="8.44" stroke-linecap="round"/>
<line x1="589.5" y1="397.7" x2="487.5" y2="381.2" stroke="#1b7f1b" stroke-width="2.4" stroke-linecap="round"/>
<line x1="589.5" y1="390.5" x2="487.5" y2="374" stroke="#0f5c11" stroke-width="9.64" stroke-linecap="round"/>
<line x1="589.5" y1="390.5" x2="487.5" y2="374" stroke="#137213" stroke-width="8.44" stroke-linecap="round"/>
<line x1="589.5" y1="389.7" x2="487.5" y2="373.2" stroke="#1b7f1b" stroke-width="2.4" stroke-linecap="round"/>
<line x1="589.5" y1="382.5" x2="487.5" y2="366" stroke="#0f5c11" stroke-width="9.64" stroke-linecap="round"/>
<line x1="589.5" y1="382.5" x2="487.5" y2="366" stroke="#137213" stroke-width="8.44" stroke-linecap="round"/>
<line x1="589.5" y1="381.7" x2="487.5" y2="365.2" stroke="#1b7f1b" stroke-width="2.4" stroke-linecap="round"/>
<line x1="589.5" y1="374.5" x2="487.5" y2="358" stroke="#0f5c11" stroke-width="9.64" stroke-linecap="round"/>
<line x1="589.5" y1="374.5" x2="487.5" y2="358" stroke="#137213" stroke-width="8.44" stroke-linecap="round"/>
<line x1="589.5" y1="373.7" x2="487.5" y2="357.2" stroke="#1b7f1b" stroke-width="2.4" stroke-linecap="round"/>
<circle r="1" transform="matrix(2.8,-0.5,0,4.48,599.5,444.7)" fill="#10620f" stroke="#0b500b" stroke-width="0.7" vector-effect="non-scaling-stroke"/>
<circle r="1" transform="matrix(2.8,-0.5,0,4.48,599.5,436.7)" fill="#10620f" stroke="#0b500b" stroke-width="0.7" vector-effect="non-scaling-stroke"/>
<circle r="1" transform="matrix(2.8,-0.5,0,4.48,599.5,428.7)" fill="#10620f" stroke="#0b500b" stroke-width="0.7" vector-effect="non-scaling-stroke"/>
<circle r="1" transform="matrix(2.8,-0.5,0,4.48,599.5,420.7)" fill="#10620f" stroke="#0b500b" stroke-width="0.7" vector-effect="non-scaling-stroke"/>
<circle r="1" transform="matrix(2.8,-0.5,0,4.48,599.5,396.7)" fill="#10620f" stroke="#0b500b" stroke-width="0.7" vector-effect="non-scaling-stroke"/>
<circle r="1" transform="matrix(2.8,-0.5,0,4.48,599.5,388.7)" fill="#10620f" stroke="#0b500b" stroke-width="0.7" vector-effect="non-scaling-stroke"/>
<circle r="1" transform="matrix(2.8,-0.5,0,4.48,599.5,380.7)" fill="#10620f" stroke="#0b500b" stroke-width="0.7" vector-effect="non-scaling-stroke"/>
<circle r="1" transform="matrix(2.8,-0.5,0,4.48,599.5,372.7)" fill="#10620f" stroke="#0b500b" stroke-width="0.7" vector-effect="non-scaling-stroke"/>
<circle r="1" transform="matrix(2.8,-0.5,0,4.48,594.5,445.6)" fill="#10620f" stroke="#0b500b" stroke-width="0.7" vector-effect="non-scaling-stroke"/>
<circle r="1" transform="matrix(2.8,-0.5,0,4.48,594.5,437.6)" fill="#10620f" stroke="#0b500b" stroke-width="0.7" vector-effect="non-scaling-stroke"/>
<circle r="1" transform="matrix(2.8,-0.5,0,4.48,594.5,429.6)" fill="#10620f" stroke="#0b500b" stroke-width="0.7" vector-effect="non-scaling-stroke"/>
<circle r="1" transform="matrix(2.8,-0.5,0,4.48,594.5,421.6)" fill="#10620f" stroke="#0b500b" stroke-width="0.7" vector-effect="non-scaling-stroke"/>
<circle r="1" transform="matrix(2.8,-0.5,0,4.48,594.5,397.6)" fill="#10620f" stroke="#0b500b" stroke-width="0.7" vector-effect="non-scaling-stroke"/>
<circle r="1" transform="matrix(2.8,-0.5,0,4.48,594.5,389.6)" fill="#10620f" stroke="#0b500b" stroke-width="0.7" vector-effect="non-scaling-stroke"/>
<circle r="1" transform="matrix(2.8,-0.5,0,4.48,594.5,381.6)" fill="#10620f" stroke="#0b500b" stroke-width="0.7" vector-effect="non-scaling-stroke"/>
<circle r="1" transform="matrix(2.8,-0.5,0,4.48,594.5,373.6)" fill="#10620f" stroke="#0b500b" stroke-width="0.7" vector-effect="non-scaling-stroke"/>
<circle r="1" transform="matrix(2.8,-0.5,0,4.48,589.5,446.5)" fill="#10620f" stroke="#0b500b" stroke-width="0.7" vector-effect="non-scaling-stroke"/>
<circle r="1" transform="matrix(2.8,-0.5,0,4.48,589.5,438.5)" fill="#10620f" stroke="#0b500b" stroke-width="0.7" vector-effect="non-scaling-stroke"/>
<circle r="1" transform="matrix(2.8,-0.5,0,4.48,589.5,430.5)" fill="#10620f" stroke="#0b500b" stroke-width="0.7" vector-effect="non-scaling-stroke"/>
<circle r="1" transform="matrix(2.8,-0.5,0,4.48,589.5,422.5)" fill="#10620f" stroke="#0b500b" stroke-width="0.7" vector-effect="non-scaling-stroke"/>
<circle r="1" transform="matrix(2.8,-0.5,0,4.48,589.5,398.5)" fill="#10620f" stroke="#0b500b" stroke-width="0.7" vector-effect="non-scaling-stroke"/>
<circle r="1" transform="matrix(2.8,-0.5,0,4.48,589.5,390.5)" fill="#10620f" stroke="#0b500b" stroke-width="0.7" vector-effect="non-scaling-stroke"/>
<circle r="1" transform="matrix(2.8,-0.5,0,4.48,589.5,382.5)" fill="#10620f" stroke="#0b500b" stroke-width="0.7" vector-effect="non-scaling-stroke"/>
<circle r="1" transform="matrix(2.8,-0.5,0,4.48,589.5,374.5)" fill="#10620f" stroke="#0b500b" stroke-width="0.7" vector-effect="non-scaling-stroke"/>
<circle cx="597" cy="441.15" r="0.7" fill="#2f7a2f"/>
<circle cx="597" cy="433.15" r="0.7" fill="#2f7a2f"/>
<circle cx="597" cy="425.15" r="0.7" fill="#2f7a2f"/>
<circle cx="597" cy="393.15" r="0.7" fill="#2f7a2f"/>
<circle cx="597" cy="385.15" r="0.7" fill="#2f7a2f"/>
<circle cx="597" cy="377.15" r="0.7" fill="#2f7a2f"/>
<circle cx="592" cy="442.05" r="0.7" fill="#2f7a2f"/>
<circle cx="592" cy="434.05" r="0.7" fill="#2f7a2f"/>
<circle cx="592" cy="426.05" r="0.7" fill="#2f7a2f"/>
<circle cx="592" cy="394.05" r="0.7" fill="#2f7a2f"/>
<circle cx="592" cy="386.05" r="0.7" fill="#2f7a2f"/>
<circle cx="592" cy="378.05" r="0.7" fill="#2f7a2f"/>
<polygon points="551.5,407.5 558,401.5 570,402.5 576.5,409 577.5,415.5 566,414.5 557,412" fill="#1a8c1a" stroke="none" stroke-width="0" />
<line x1="174.6" y1="233.4" x2="190.72" y2="218.71" stroke="#0a0a0a" stroke-width="2.6" stroke-linecap="butt" />
<polygon points="195.9,214 192.61,222.27 187.36,216.5" fill="#0a0a0a" stroke="none" stroke-width="0" />
<text x="168.5" y="220.2" font-family="Liberation Serif" font-size="15" fill="#0a0a0a" font-weight="normal" font-style="italic" text-anchor="start" >F</text>
<line x1="88.75" y1="317.5" x2="70.81" y2="332.94" stroke="#0a0a0a" stroke-width="2.6" stroke-linecap="butt" />
<polygon points="65.5,337.5 69.02,329.33 74.11,335.24" fill="#0a0a0a" stroke="none" stroke-width="0" />
<text x="57.5" y="328.95" font-family="Liberation Serif" font-size="15" fill="#0a0a0a" font-weight="normal" font-style="italic" text-anchor="start" >F</text>
<line x1="175.25" y1="367.5" x2="190.71" y2="354.09" stroke="#0a0a0a" stroke-width="2.6" stroke-linecap="butt" />
<polygon points="196,349.5 192.51,357.69 187.4,351.8" fill="#0a0a0a" stroke="none" stroke-width="0" />
<text x="173.5" y="355.2" font-family="Liberation Serif" font-size="15" fill="#0a0a0a" font-weight="normal" font-style="italic" text-anchor="start" >F</text>
<line x1="87.5" y1="452.5" x2="73.87" y2="465.22" stroke="#0a0a0a" stroke-width="2.6" stroke-linecap="butt" />
<polygon points="68.75,470 71.94,461.69 77.26,467.39" fill="#0a0a0a" stroke="none" stroke-width="0" />
<text x="59.5" y="463.95" font-family="Liberation Serif" font-size="15" fill="#0a0a0a" font-weight="normal" font-style="italic" text-anchor="start" >F</text>
<line x1="377.5" y1="262.5" x2="399.11" y2="252.85" stroke="#0a0a0a" stroke-width="2.6" stroke-linecap="butt" />
<polygon points="405.5,250 399.78,256.82 396.61,249.7" fill="#0a0a0a" stroke="none" stroke-width="0" />
<text x="382.5" y="247.7" font-family="Liberation Serif" font-size="15" fill="#0a0a0a" font-weight="normal" font-style="italic" text-anchor="start" >F</text>
<line x1="297.75" y1="307" x2="276.58" y2="317.01" stroke="#0a0a0a" stroke-width="2.6" stroke-linecap="butt" />
<polygon points="270.25,320 275.82,313.06 279.15,320.11" fill="#0a0a0a" stroke="none" stroke-width="0" />
<text x="273" y="308.95" font-family="Liberation Serif" font-size="15" fill="#0a0a0a" font-weight="normal" font-style="italic" text-anchor="start" >F</text>
<line x1="380" y1="391.25" x2="398.21" y2="380.55" stroke="#0a0a0a" stroke-width="2.6" stroke-linecap="butt" />
<polygon points="404.25,377 399.33,384.42 395.38,377.69" fill="#0a0a0a" stroke="none" stroke-width="0" />
<text x="403" y="396.2" font-family="Liberation Serif" font-size="15" fill="#0a0a0a" font-weight="normal" font-style="italic" text-anchor="start" >F</text>
<line x1="302" y1="435" x2="285.09" y2="444.56" stroke="#0a0a0a" stroke-width="2.6" stroke-linecap="butt" />
<polygon points="279,448 284.05,440.67 287.88,447.46" fill="#0a0a0a" stroke="none" stroke-width="0" />
<text x="293.5" y="457.7" font-family="Liberation Serif" font-size="15" fill="#0a0a0a" font-weight="normal" font-style="italic" text-anchor="start" >F</text>
<line x1="542" y1="226" x2="542" y2="210.75" stroke="#0a0a0a" stroke-width="2.6" stroke-linecap="butt" />
<polygon points="542,203.75 545.9,211.75 538.1,211.75" fill="#0a0a0a" stroke="none" stroke-width="0" />
<text x="527.5" y="213.95" font-family="Liberation Serif" font-size="15" fill="#0a0a0a" font-weight="normal" font-style="italic" text-anchor="start" >F</text>
<line x1="542" y1="311" x2="542" y2="323" stroke="#0a0a0a" stroke-width="2.6" stroke-linecap="butt" />
<polygon points="542,330 538.1,322 545.9,322" fill="#0a0a0a" stroke="none" stroke-width="0" />
<text x="527.5" y="328.95" font-family="Liberation Serif" font-size="15" fill="#0a0a0a" font-weight="normal" font-style="italic" text-anchor="start" >F</text>
<line x1="555.75" y1="359.5" x2="555.75" y2="348.25" stroke="#0a0a0a" stroke-width="2.6" stroke-linecap="butt" />
<polygon points="555.75,341.25 559.65,349.25 551.85,349.25" fill="#0a0a0a" stroke="none" stroke-width="0" />
<text x="560.25" y="351.45" font-family="Liberation Serif" font-size="15" fill="#0a0a0a" font-weight="normal" font-style="italic" text-anchor="start" >F</text>
<line x1="555.75" y1="448.75" x2="555.75" y2="460.5" stroke="#0a0a0a" stroke-width="2.6" stroke-linecap="butt" />
<polygon points="555.75,467.5 551.85,459.5 559.65,459.5" fill="#0a0a0a" stroke="none" stroke-width="0" />
<text x="560.25" y="467.7" font-family="Liberation Serif" font-size="15" fill="#0a0a0a" font-weight="normal" font-style="italic" text-anchor="start" >F</text>
<text x="88.5" y="246" font-family="Liberation Serif" font-size="24" fill="#d3121c" font-weight="bold" font-style="normal" text-anchor="start" >p</text>
<text x="81.5" y="377" font-family="Liberation Serif" font-size="24" fill="#d3121c" font-weight="bold" font-style="normal" text-anchor="start" >q</text>
<text x="350" y="238.5" font-family="Liberation Serif" font-size="24" fill="#d3121c" font-weight="bold" font-style="normal" text-anchor="start" >p</text>
<text x="354.5" y="372" font-family="Liberation Serif" font-size="24" fill="#d3121c" font-weight="bold" font-style="normal" text-anchor="start" >q</text>
<text x="471" y="268.3" font-family="Liberation Serif" font-size="24" fill="#d3121c" font-weight="bold" font-style="normal" text-anchor="start" >r</text>
<text x="469.5" y="400.5" font-family="Liberation Serif" font-size="24" fill="#d3121c" font-weight="bold" font-style="normal" text-anchor="start" >s</text>
<g fill="none" stroke="#9a9a9a" stroke-width="0.9" stroke-dasharray="1.6 1.2"><path d="M419,533.5 a9,8.5 0 1 0 13,6"/><path d="M412,534 l4,-2 M410,540 l3,1 M423,536 l3,3 M424,541 l2,2"/></g>
<text x="440.5" y="544.5" font-family="Liberation Sans" font-size="15" fill="#f2f2f2" font-weight="normal" font-style="normal" text-anchor="start" textLength="80" lengthAdjust="spacingAndGlyphs" stroke="#666666" stroke-width="1.4" paint-order="stroke">OrthoDesign</text>
<path transform="translate(522,531.5)" d="M1,1 h12 v13 h-12 z M4,3 l3,2 M9,3 l-5,5 M6,5 l5,4 M5,10 l2,1 M6,12 l2,1" fill="none" stroke="#ffffff" stroke-width="2.8" stroke-linecap="round"/>
<path transform="translate(522,531.5)" d="M1,1 h12 v13 h-12 z M4,3 l3,2 M9,3 l-5,5 M6,5 l5,4 M5,10 l2,1 M6,12 l2,1" fill="none" stroke="#5e5e5e" stroke-width="1.2" stroke-linecap="round"/>
<path transform="translate(537.8,531.5)" d="M7,0 v2 M1,4 v-2 h12 v2 M4,4 l6,3 M9,4 l-6,4 M1,9 h12 M7,7 v7 M6,10 l-5,4 M8,10 l5,4" fill="none" stroke="#ffffff" stroke-width="2.8" stroke-linecap="round"/>
<path transform="translate(537.8,531.5)" d="M7,0 v2 M1,4 v-2 h12 v2 M4,4 l6,3 M9,4 l-6,4 M1,9 h12 M7,7 v7 M6,10 l-5,4 M8,10 l5,4" fill="none" stroke="#5e5e5e" stroke-width="1.2" stroke-linecap="round"/>
<path transform="translate(553.6,531.5)" d="M3,0 l-2,5 M2,3 v11 M5,1 h3 v3 h-3 v3 h3 M5,1 v13 M5,10 h3 M10,1 h3 v3 h-3 M10,6 h3 l-3,8 M10,8 l3,6" fill="none" stroke="#ffffff" stroke-width="2.8" stroke-linecap="round"/>
<path transform="translate(553.6,531.5)" d="M3,0 l-2,5 M2,3 v11 M5,1 h3 v3 h-3 v3 h3 M5,1 v13 M5,10 h3 M10,1 h3 v3 h-3 M10,6 h3 l-3,8 M10,8 l3,6" fill="none" stroke="#5e5e5e" stroke-width="1.2" stroke-linecap="round"/>
<path transform="translate(569.4,531.5)" d="M3,0 l-2,6 M3,3 v11 M5,4 h8 M9,0 v14 M9,4 l-4,6 M9,4 l4,6 M6,11 h6" fill="none" stroke="#ffffff" stroke-width="2.8" stroke-linecap="round"/>
<path transform="translate(569.4,531.5)" d="M3,0 l-2,6 M3,3 v11 M5,4 h8 M9,0 v14 M9,4 l-4,6 M9,4 l4,6 M6,11 h6" fill="none" stroke="#5e5e5e" stroke-width="1.2" stroke-linecap="round"/>
<path transform="translate(585.2,531.5)" d="M1,1 l2,2 M0,5 h3 v8 l2,-2 M7,1 v3 l-2,2 M7,1 h4 v3 l2,1 M5,8 h7 l-6,6 M6,9 l7,5" fill="none" stroke="#ffffff" stroke-width="2.8" stroke-linecap="round"/>
<path transform="translate(585.2,531.5)" d="M1,1 l2,2 M0,5 h3 v8 l2,-2 M7,1 v3 l-2,2 M7,1 h4 v3 l2,1 M5,8 h7 l-6,6 M6,9 l7,5" fill="none" stroke="#5e5e5e" stroke-width="1.2" stroke-linecap="round"/>
<path transform="translate(601,531.5)" d="M1,1 l2,2 M0,5 h3 v8 l2,-2 M5,6 h9 M9,0 v14" fill="none" stroke="#ffffff" stroke-width="2.8" stroke-linecap="round"/>
<path transform="translate(601,531.5)" d="M1,1 l2,2 M0,5 h3 v8 l2,-2 M5,6 h9 M9,0 v14" fill="none" stroke="#5e5e5e" stroke-width="1.2" stroke-linecap="round"/>
</svg></body></html>
